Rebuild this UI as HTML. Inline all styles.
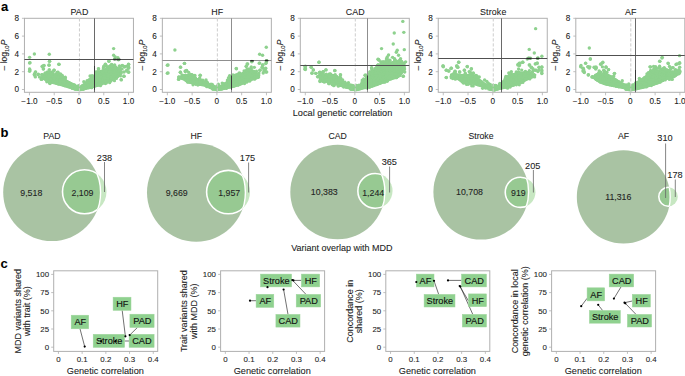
<!DOCTYPE html>
<html><head><meta charset="utf-8"><style>
html,body{margin:0;padding:0;background:#fff;width:685px;height:376px;overflow:hidden}
svg{display:block}
text{font-family:"Liberation Sans", sans-serif;stroke-width:0.08px}
</style></head><body>
<svg width="685" height="376" viewBox="0 0 685 376">
<defs><clipPath id="clipa0"><rect x="24.45" y="18.3" width="109" height="74.00"/></clipPath><clipPath id="clipa1"><rect x="162.35" y="18.3" width="109" height="74.00"/></clipPath><clipPath id="clipa2"><rect x="300.3" y="18.3" width="109" height="74.00"/></clipPath><clipPath id="clipa3"><rect x="438.25" y="18.3" width="109" height="74.00"/></clipPath><clipPath id="clipa4"><rect x="575.8" y="18.3" width="109" height="74.00"/></clipPath></defs>
<rect width="685" height="376" fill="#fff"/>
<text x="1.00" y="10.90" font-size="13" text-anchor="start" fill="#000" stroke="#000" font-weight="bold">a</text>
<text x="0.40" y="136.80" font-size="13" text-anchor="start" fill="#000" stroke="#000" font-weight="bold">b</text>
<text x="0.50" y="267.60" font-size="13" text-anchor="start" fill="#000" stroke="#000" font-weight="bold">c</text>
<text x="79.45" y="14.55" font-size="8.9" text-anchor="middle" fill="#222" stroke="#222" letter-spacing="0.15">PAD</text>
<rect x="24.45" y="18.3" width="109" height="74.00" fill="none" stroke="#b0b0b0" stroke-width="1"/>
<g clip-path="url(#clipa0)">
<g fill="#8ed18e"><circle cx="29.59" cy="57.37" r="1.7"/><circle cx="34.38" cy="54.04" r="1.7"/><circle cx="49.28" cy="54.31" r="1.7"/><circle cx="29.59" cy="62.95" r="1.7"/><circle cx="49.54" cy="61.36" r="1.7"/><circle cx="58.85" cy="64.29" r="1.7"/><circle cx="49.01" cy="64.95" r="1.7"/><circle cx="42.62" cy="66.28" r="1.7"/><circle cx="43.95" cy="65.62" r="1.7"/><circle cx="43.29" cy="68.94" r="1.7"/><circle cx="29.59" cy="68.94" r="1.7"/><circle cx="29.59" cy="71.20" r="1.7"/><circle cx="35.31" cy="72.27" r="1.7"/><circle cx="34.38" cy="74.26" r="1.7"/><circle cx="35.31" cy="76.92" r="1.7"/><circle cx="37.97" cy="74.66" r="1.7"/><circle cx="41.29" cy="79.18" r="1.7"/><circle cx="49.28" cy="69.61" r="1.7"/><circle cx="53.93" cy="70.27" r="1.7"/><circle cx="57.92" cy="72.27" r="1.7"/></g>
<polygon points="43.29,74.26 47.28,72.27 50.61,74.26 55.93,73.60 61.25,75.59 65.24,79.58 70.56,82.24 75.88,84.91 79.87,87.57 84.00,86.90 84.00,90.23 79.87,90.63 74.55,89.30 67.90,87.57 61.25,85.57 54.60,83.97 47.95,82.24 43.95,79.58 41.29,77.59" fill="#8ed18e" stroke="#8ed18e" stroke-width="1.2" stroke-linejoin="round"/>
<g fill="#8ed18e"><circle cx="44.03" cy="74.94" r="1.7"/><circle cx="45.97" cy="74.45" r="1.7"/><circle cx="45.19" cy="72.86" r="1.7"/><circle cx="46.67" cy="73.36" r="1.7"/><circle cx="47.40" cy="71.88" r="1.7"/><circle cx="49.16" cy="74.46" r="1.7"/><circle cx="51.29" cy="72.40" r="1.7"/><circle cx="51.52" cy="75.37" r="1.7"/><circle cx="53.54" cy="75.63" r="1.7"/><circle cx="52.49" cy="73.35" r="1.7"/><circle cx="55.61" cy="75.27" r="1.7"/><circle cx="56.97" cy="72.38" r="1.7"/><circle cx="57.55" cy="75.68" r="1.7"/><circle cx="57.59" cy="74.00" r="1.7"/><circle cx="59.64" cy="76.32" r="1.7"/><circle cx="60.48" cy="73.83" r="1.7"/><circle cx="60.28" cy="76.96" r="1.7"/><circle cx="61.75" cy="78.08" r="1.7"/><circle cx="63.38" cy="79.95" r="1.7"/><circle cx="65.26" cy="77.31" r="1.7"/><circle cx="64.89" cy="81.21" r="1.7"/><circle cx="65.24" cy="78.67" r="1.7"/><circle cx="66.88" cy="82.21" r="1.7"/><circle cx="69.06" cy="82.75" r="1.7"/><circle cx="70.46" cy="83.77" r="1.7"/><circle cx="72.27" cy="85.13" r="1.7"/><circle cx="74.32" cy="85.07" r="1.7"/><circle cx="75.49" cy="86.89" r="1.7"/><circle cx="77.50" cy="87.42" r="1.7"/><circle cx="80.10" cy="88.83" r="1.7"/><circle cx="78.93" cy="87.05" r="1.7"/><circle cx="82.87" cy="88.01" r="1.7"/><circle cx="83.30" cy="86.08" r="1.7"/><circle cx="82.73" cy="87.03" r="1.7"/><circle cx="83.26" cy="88.54" r="1.7"/><circle cx="80.92" cy="88.79" r="1.7"/><circle cx="79.93" cy="89.37" r="1.7"/><circle cx="78.21" cy="88.41" r="1.7"/><circle cx="75.70" cy="88.61" r="1.7"/><circle cx="74.62" cy="88.25" r="1.7"/><circle cx="72.41" cy="87.38" r="1.7"/><circle cx="69.73" cy="86.94" r="1.7"/><circle cx="68.25" cy="86.38" r="1.7"/><circle cx="65.68" cy="85.44" r="1.7"/><circle cx="62.85" cy="84.45" r="1.7"/><circle cx="61.02" cy="84.02" r="1.7"/><circle cx="58.48" cy="84.05" r="1.7"/><circle cx="56.20" cy="82.68" r="1.7"/><circle cx="54.04" cy="82.12" r="1.7"/><circle cx="52.25" cy="82.11" r="1.7"/><circle cx="50.42" cy="81.37" r="1.7"/><circle cx="48.35" cy="81.50" r="1.7"/><circle cx="46.27" cy="79.98" r="1.7"/><circle cx="44.00" cy="78.58" r="1.7"/><circle cx="42.10" cy="78.07" r="1.7"/><circle cx="39.50" cy="77.08" r="1.7"/><circle cx="43.97" cy="75.94" r="1.7"/><circle cx="41.75" cy="74.80" r="1.7"/></g>
<g fill="#8ed18e"><circle cx="113.64" cy="48.59" r="1.7"/><circle cx="113.64" cy="55.24" r="1.7"/><circle cx="115.24" cy="56.97" r="1.7"/><circle cx="117.90" cy="57.63" r="1.7"/><circle cx="118.57" cy="59.23" r="1.7"/><circle cx="114.57" cy="58.96" r="1.7"/><circle cx="108.85" cy="60.96" r="1.7"/><circle cx="105.26" cy="64.29" r="1.7"/><circle cx="103.93" cy="66.28" r="1.7"/><circle cx="98.61" cy="68.94" r="1.7"/><circle cx="128.54" cy="64.29" r="1.7"/><circle cx="128.54" cy="68.28" r="1.7"/><circle cx="128.54" cy="72.27" r="1.7"/><circle cx="124.55" cy="66.95" r="1.7"/><circle cx="122.56" cy="65.62" r="1.7"/><circle cx="123.89" cy="76.26" r="1.7"/><circle cx="121.23" cy="79.58" r="1.7"/><circle cx="117.90" cy="74.26" r="1.7"/><circle cx="127.21" cy="66.28" r="1.7"/><circle cx="126.55" cy="70.94" r="1.7"/></g>
<polygon points="74.00,85.30 79.32,86.90 84.64,82.91 88.63,78.92 93.95,74.93 97.95,71.60 104.60,68.94 109.92,64.95 113.91,65.62 119.23,68.28 121.89,71.60 120.56,74.93 116.57,78.25 111.25,80.91 104.60,83.57 97.95,86.24 91.29,88.23 84.64,89.56 79.32,90.63 74.00,89.56" fill="#8ed18e" stroke="#8ed18e" stroke-width="1.2" stroke-linejoin="round"/>
<g fill="#8ed18e"><circle cx="74.06" cy="86.27" r="1.7"/><circle cx="76.28" cy="87.33" r="1.7"/><circle cx="77.37" cy="87.24" r="1.7"/><circle cx="78.51" cy="85.62" r="1.7"/><circle cx="79.94" cy="87.43" r="1.7"/><circle cx="82.13" cy="85.97" r="1.7"/><circle cx="83.71" cy="85.31" r="1.7"/><circle cx="86.31" cy="83.42" r="1.7"/><circle cx="83.85" cy="81.63" r="1.7"/><circle cx="87.45" cy="82.03" r="1.7"/><circle cx="88.24" cy="80.75" r="1.7"/><circle cx="90.53" cy="79.63" r="1.7"/><circle cx="92.09" cy="78.32" r="1.7"/><circle cx="90.07" cy="76.02" r="1.7"/><circle cx="92.69" cy="76.88" r="1.7"/><circle cx="92.12" cy="75.60" r="1.7"/><circle cx="95.72" cy="75.11" r="1.7"/><circle cx="98.10" cy="73.85" r="1.7"/><circle cx="95.93" cy="71.89" r="1.7"/><circle cx="98.54" cy="72.44" r="1.7"/><circle cx="101.79" cy="71.89" r="1.7"/><circle cx="103.72" cy="71.07" r="1.7"/><circle cx="103.35" cy="68.09" r="1.7"/><circle cx="106.25" cy="69.70" r="1.7"/><circle cx="107.52" cy="68.81" r="1.7"/><circle cx="106.38" cy="66.03" r="1.7"/><circle cx="109.23" cy="66.99" r="1.7"/><circle cx="110.48" cy="66.02" r="1.7"/><circle cx="111.55" cy="64.49" r="1.7"/><circle cx="112.56" cy="66.34" r="1.7"/><circle cx="114.11" cy="67.39" r="1.7"/><circle cx="114.64" cy="64.85" r="1.7"/><circle cx="114.87" cy="68.16" r="1.7"/><circle cx="117.12" cy="69.23" r="1.7"/><circle cx="119.45" cy="65.87" r="1.7"/><circle cx="118.55" cy="69.11" r="1.7"/><circle cx="120.14" cy="67.98" r="1.7"/><circle cx="119.77" cy="70.93" r="1.7"/><circle cx="122.03" cy="68.89" r="1.7"/><circle cx="120.27" cy="71.84" r="1.7"/><circle cx="118.87" cy="74.73" r="1.7"/><circle cx="116.80" cy="76.33" r="1.7"/><circle cx="115.49" cy="77.28" r="1.7"/><circle cx="114.22" cy="78.02" r="1.7"/><circle cx="112.51" cy="79.41" r="1.7"/><circle cx="110.00" cy="80.37" r="1.7"/><circle cx="107.92" cy="80.55" r="1.7"/><circle cx="105.78" cy="81.88" r="1.7"/><circle cx="103.51" cy="82.52" r="1.7"/><circle cx="101.18" cy="83.98" r="1.7"/><circle cx="99.15" cy="84.62" r="1.7"/><circle cx="97.17" cy="84.77" r="1.7"/><circle cx="94.77" cy="85.74" r="1.7"/><circle cx="92.16" cy="86.11" r="1.7"/><circle cx="90.52" cy="86.91" r="1.7"/><circle cx="88.25" cy="87.47" r="1.7"/><circle cx="85.84" cy="88.02" r="1.7"/><circle cx="83.91" cy="88.38" r="1.7"/><circle cx="81.73" cy="88.57" r="1.7"/><circle cx="79.96" cy="88.65" r="1.7"/><circle cx="79.36" cy="89.22" r="1.7"/><circle cx="77.04" cy="88.44" r="1.7"/><circle cx="75.83" cy="89.00" r="1.7"/><circle cx="74.85" cy="89.09" r="1.7"/><circle cx="74.86" cy="87.18" r="1.7"/></g>
<g fill="#8ed18e"><circle cx="98.43" cy="68.71" r="1.7"/><circle cx="104.02" cy="66.38" r="1.7"/><circle cx="105.60" cy="64.52" r="1.7"/><circle cx="108.95" cy="61.26" r="1.7"/><circle cx="118.45" cy="59.86" r="1.7"/><circle cx="122.18" cy="65.45" r="1.7"/><circle cx="124.97" cy="66.38" r="1.7"/><circle cx="128.69" cy="64.52" r="1.7"/><circle cx="128.69" cy="67.31" r="1.7"/><circle cx="128.69" cy="71.97" r="1.7"/><circle cx="126.83" cy="70.10" r="1.7"/><circle cx="124.04" cy="71.97" r="1.7"/><circle cx="124.04" cy="76.16" r="1.7"/><circle cx="121.24" cy="79.88" r="1.7"/><circle cx="119.85" cy="68.71" r="1.7"/><circle cx="115.66" cy="66.85" r="1.7"/><circle cx="111.93" cy="64.98" r="1.7"/></g>
<g fill="#8ed18e"><circle cx="109.87" cy="66.59" r="1.6"/><circle cx="111.53" cy="67.03" r="1.6"/><circle cx="114.58" cy="66.91" r="1.6"/><circle cx="106.83" cy="69.59" r="1.6"/><circle cx="110.07" cy="69.33" r="1.6"/><circle cx="111.93" cy="69.80" r="1.6"/><circle cx="113.66" cy="68.87" r="1.6"/><circle cx="115.51" cy="69.97" r="1.6"/><circle cx="117.96" cy="68.92" r="1.6"/><circle cx="97.50" cy="71.65" r="1.6"/><circle cx="99.91" cy="71.84" r="1.6"/><circle cx="101.92" cy="71.89" r="1.6"/><circle cx="104.32" cy="71.23" r="1.6"/><circle cx="106.27" cy="71.12" r="1.6"/><circle cx="108.87" cy="72.02" r="1.6"/><circle cx="112.00" cy="72.14" r="1.6"/><circle cx="114.51" cy="71.71" r="1.6"/><circle cx="116.98" cy="71.32" r="1.6"/><circle cx="118.73" cy="71.15" r="1.6"/><circle cx="121.43" cy="72.09" r="1.6"/><circle cx="95.81" cy="73.75" r="1.6"/><circle cx="97.21" cy="73.96" r="1.6"/><circle cx="100.64" cy="74.28" r="1.6"/><circle cx="102.60" cy="74.47" r="1.6"/><circle cx="103.91" cy="74.66" r="1.6"/><circle cx="107.00" cy="74.24" r="1.6"/><circle cx="108.61" cy="74.56" r="1.6"/><circle cx="110.92" cy="73.81" r="1.6"/><circle cx="116.19" cy="74.00" r="1.6"/><circle cx="118.79" cy="74.61" r="1.6"/><circle cx="121.03" cy="73.51" r="1.6"/><circle cx="93.51" cy="76.76" r="1.6"/><circle cx="95.53" cy="76.43" r="1.6"/><circle cx="97.19" cy="77.11" r="1.6"/><circle cx="100.87" cy="77.18" r="1.6"/><circle cx="104.62" cy="76.11" r="1.6"/><circle cx="107.71" cy="76.02" r="1.6"/><circle cx="111.01" cy="77.00" r="1.6"/><circle cx="114.52" cy="76.81" r="1.6"/><circle cx="116.84" cy="76.46" r="1.6"/><circle cx="117.71" cy="76.47" r="1.6"/><circle cx="120.48" cy="75.91" r="1.6"/><circle cx="92.86" cy="78.58" r="1.6"/><circle cx="96.30" cy="78.93" r="1.6"/><circle cx="97.68" cy="78.42" r="1.6"/><circle cx="99.46" cy="79.32" r="1.6"/><circle cx="103.10" cy="78.38" r="1.6"/><circle cx="104.72" cy="78.29" r="1.6"/><circle cx="107.73" cy="79.40" r="1.6"/><circle cx="111.68" cy="79.13" r="1.6"/><circle cx="114.27" cy="78.70" r="1.6"/><circle cx="116.43" cy="78.44" r="1.6"/><circle cx="87.06" cy="80.70" r="1.6"/><circle cx="88.28" cy="81.17" r="1.6"/><circle cx="90.37" cy="80.54" r="1.6"/><circle cx="93.85" cy="81.08" r="1.6"/><circle cx="96.15" cy="81.88" r="1.6"/><circle cx="97.22" cy="80.59" r="1.6"/><circle cx="99.85" cy="80.43" r="1.6"/><circle cx="105.10" cy="80.94" r="1.6"/><circle cx="107.04" cy="80.89" r="1.6"/><circle cx="111.00" cy="81.09" r="1.6"/><circle cx="114.48" cy="80.63" r="1.6"/><circle cx="86.64" cy="84.02" r="1.6"/><circle cx="88.74" cy="82.58" r="1.6"/><circle cx="91.58" cy="83.90" r="1.6"/><circle cx="93.96" cy="82.98" r="1.6"/><circle cx="94.95" cy="83.42" r="1.6"/><circle cx="98.51" cy="83.74" r="1.6"/><circle cx="100.52" cy="83.31" r="1.6"/><circle cx="101.66" cy="83.83" r="1.6"/><circle cx="105.37" cy="83.62" r="1.6"/><circle cx="106.40" cy="82.99" r="1.6"/><circle cx="109.62" cy="82.76" r="1.6"/><circle cx="84.61" cy="85.64" r="1.6"/><circle cx="85.90" cy="86.42" r="1.6"/><circle cx="88.29" cy="84.92" r="1.6"/><circle cx="91.18" cy="85.56" r="1.6"/><circle cx="93.47" cy="86.36" r="1.6"/><circle cx="94.75" cy="85.42" r="1.6"/><circle cx="98.09" cy="85.20" r="1.6"/><circle cx="100.48" cy="85.69" r="1.6"/><circle cx="91.59" cy="87.71" r="1.6"/></g>
<g fill="#8ed18e"><circle cx="49.55" cy="61.26" r="1.7"/><circle cx="59.05" cy="64.33" r="1.7"/><circle cx="49.09" cy="65.26" r="1.7"/><circle cx="42.10" cy="66.38" r="1.7"/><circle cx="43.97" cy="65.45" r="1.7"/><circle cx="43.50" cy="68.71" r="1.7"/><circle cx="35.59" cy="71.97" r="1.7"/><circle cx="34.66" cy="75.23" r="1.7"/><circle cx="38.38" cy="74.29" r="1.7"/><circle cx="42.10" cy="74.76" r="1.7"/><circle cx="41.64" cy="79.42" r="1.7"/><circle cx="50.02" cy="83.61" r="1.7"/><circle cx="30.00" cy="62.66" r="1.7"/><circle cx="30.00" cy="70.10" r="1.7"/><circle cx="54.21" cy="70.10" r="1.7"/><circle cx="57.93" cy="72.43" r="1.7"/></g>
<g fill="#8ed18e"><circle cx="48.72" cy="72.18" r="1.6"/><circle cx="50.63" cy="71.92" r="1.6"/><circle cx="53.20" cy="71.71" r="1.6"/><circle cx="46.15" cy="75.32" r="1.6"/><circle cx="51.32" cy="74.27" r="1.6"/><circle cx="53.85" cy="75.49" r="1.6"/><circle cx="55.86" cy="75.21" r="1.6"/><circle cx="62.31" cy="75.46" r="1.6"/><circle cx="44.65" cy="76.53" r="1.6"/><circle cx="46.43" cy="77.29" r="1.6"/><circle cx="48.70" cy="76.53" r="1.6"/><circle cx="51.38" cy="76.31" r="1.6"/><circle cx="53.44" cy="77.08" r="1.6"/><circle cx="55.25" cy="76.47" r="1.6"/><circle cx="58.06" cy="76.66" r="1.6"/><circle cx="61.23" cy="76.70" r="1.6"/><circle cx="62.58" cy="76.87" r="1.6"/><circle cx="45.06" cy="78.65" r="1.6"/><circle cx="46.50" cy="79.31" r="1.6"/><circle cx="50.68" cy="79.29" r="1.6"/><circle cx="54.35" cy="78.82" r="1.6"/><circle cx="56.61" cy="80.07" r="1.6"/><circle cx="57.49" cy="79.99" r="1.6"/><circle cx="61.15" cy="79.50" r="1.6"/><circle cx="62.26" cy="79.76" r="1.6"/><circle cx="64.95" cy="79.86" r="1.6"/><circle cx="46.78" cy="81.81" r="1.6"/><circle cx="48.88" cy="81.74" r="1.6"/><circle cx="51.56" cy="81.52" r="1.6"/><circle cx="52.84" cy="81.79" r="1.6"/><circle cx="55.48" cy="82.03" r="1.6"/><circle cx="58.14" cy="81.09" r="1.6"/><circle cx="59.88" cy="81.01" r="1.6"/><circle cx="62.15" cy="81.51" r="1.6"/><circle cx="64.37" cy="81.82" r="1.6"/><circle cx="67.78" cy="82.05" r="1.6"/><circle cx="49.69" cy="83.21" r="1.6"/><circle cx="57.74" cy="83.52" r="1.6"/><circle cx="60.21" cy="83.16" r="1.6"/><circle cx="62.26" cy="84.60" r="1.6"/><circle cx="65.74" cy="83.37" r="1.6"/><circle cx="66.79" cy="83.95" r="1.6"/><circle cx="69.48" cy="84.50" r="1.6"/><circle cx="72.13" cy="84.52" r="1.6"/><circle cx="64.52" cy="85.77" r="1.6"/><circle cx="66.64" cy="85.41" r="1.6"/><circle cx="69.07" cy="85.98" r="1.6"/><circle cx="72.14" cy="86.35" r="1.6"/><circle cx="74.50" cy="86.16" r="1.6"/><circle cx="72.18" cy="88.52" r="1.6"/><circle cx="74.81" cy="87.98" r="1.6"/><circle cx="79.36" cy="88.85" r="1.6"/></g>
</g>
<line x1="79.45" y1="18.3" x2="79.45" y2="92.3" stroke="#cdcdcd" stroke-width="1" stroke-dasharray="3.2,1.8"/>
<line x1="94.50" y1="18.3" x2="94.50" y2="92.3" stroke="#6a6a6a" stroke-width="1"/>
<line x1="94.50" y1="66" x2="94.50" y2="89.8" stroke="#3a3a3a" stroke-width="1"/>
<line x1="24.45" y1="59.50" x2="133.45" y2="59.50" stroke="#505050" stroke-width="1"/>
<line x1="113.8" y1="59.5" x2="120.2" y2="59.5" stroke="#2a2a2a" stroke-width="1.5" stroke-linecap="round"/>
<line x1="21.95" y1="89.50" x2="24.45" y2="89.50" stroke="#b0b0b0" stroke-width="0.8"/>
<text x="18.95" y="92.40" font-size="8.2" text-anchor="end" fill="#222" stroke="#222" >0</text>
<line x1="21.95" y1="71.70" x2="24.45" y2="71.70" stroke="#b0b0b0" stroke-width="0.8"/>
<text x="18.95" y="74.60" font-size="8.2" text-anchor="end" fill="#222" stroke="#222" >2</text>
<line x1="21.95" y1="53.90" x2="24.45" y2="53.90" stroke="#b0b0b0" stroke-width="0.8"/>
<text x="18.95" y="56.80" font-size="8.2" text-anchor="end" fill="#222" stroke="#222" >4</text>
<line x1="21.95" y1="36.10" x2="24.45" y2="36.10" stroke="#b0b0b0" stroke-width="0.8"/>
<text x="18.95" y="39.00" font-size="8.2" text-anchor="end" fill="#222" stroke="#222" >6</text>
<line x1="21.95" y1="18.30" x2="24.45" y2="18.30" stroke="#b0b0b0" stroke-width="0.8"/>
<text x="18.95" y="21.20" font-size="8.2" text-anchor="end" fill="#222" stroke="#222" >8</text>
<line x1="29.45" y1="92.3" x2="29.45" y2="95.30" stroke="#b0b0b0" stroke-width="0.8"/>
<text x="29.45" y="104.00" font-size="8.2" text-anchor="middle" fill="#222" stroke="#222" >−1.0</text>
<line x1="54.23" y1="92.3" x2="54.23" y2="95.30" stroke="#b0b0b0" stroke-width="0.8"/>
<text x="54.23" y="104.00" font-size="8.2" text-anchor="middle" fill="#222" stroke="#222" >−0.5</text>
<line x1="79.00" y1="92.3" x2="79.00" y2="95.30" stroke="#b0b0b0" stroke-width="0.8"/>
<text x="79.00" y="104.00" font-size="8.2" text-anchor="middle" fill="#222" stroke="#222" >0</text>
<line x1="103.78" y1="92.3" x2="103.78" y2="95.30" stroke="#b0b0b0" stroke-width="0.8"/>
<text x="103.78" y="104.00" font-size="8.2" text-anchor="middle" fill="#222" stroke="#222" >0.5</text>
<line x1="128.55" y1="92.3" x2="128.55" y2="95.30" stroke="#b0b0b0" stroke-width="0.8"/>
<text x="128.55" y="104.00" font-size="8.2" text-anchor="middle" fill="#222" stroke="#222" >1.0</text>
<text transform="translate(6.95,55) rotate(-90)" font-size="8.5" text-anchor="middle" fill="#222" stroke="#222">– log<tspan font-size="6" dy="2">10</tspan><tspan dy="-2" font-style="italic">P</tspan></text>
<text x="217.35" y="14.55" font-size="8.9" text-anchor="middle" fill="#222" stroke="#222" letter-spacing="0.15">HF</text>
<rect x="162.35" y="18.3" width="109" height="74.00" fill="none" stroke="#b0b0b0" stroke-width="1"/>
<g clip-path="url(#clipa1)">
<g fill="#8ed18e"><circle cx="174.90" cy="50.05" r="1.7"/><circle cx="167.32" cy="65.22" r="1.7"/><circle cx="167.32" cy="73.20" r="1.7"/><circle cx="184.35" cy="63.35" r="1.7"/><circle cx="180.62" cy="67.21" r="1.7"/><circle cx="180.36" cy="72.27" r="1.7"/><circle cx="185.28" cy="71.60" r="1.7"/><circle cx="186.61" cy="70.67" r="1.7"/><circle cx="200.31" cy="75.33" r="1.7"/><circle cx="178.63" cy="79.18" r="1.7"/><circle cx="179.03" cy="76.92" r="1.7"/></g>
<polygon points="179.96,76.26 183.95,74.93 188.61,74.26 191.93,73.60 194.59,75.59 196.59,78.25 201.91,79.58 206.57,82.24 211.22,85.57 216.54,87.57 222.00,85.84 222.00,89.83 216.54,90.63 211.22,88.90 204.57,86.24 197.92,84.91 192.60,83.97 187.94,82.91 183.95,80.25 180.62,78.65" fill="#8ed18e" stroke="#8ed18e" stroke-width="1.2" stroke-linejoin="round"/>
<g fill="#8ed18e"><circle cx="181.31" cy="77.49" r="1.7"/><circle cx="183.10" cy="76.55" r="1.7"/><circle cx="182.00" cy="74.87" r="1.7"/><circle cx="184.16" cy="76.05" r="1.7"/><circle cx="187.33" cy="76.17" r="1.7"/><circle cx="189.32" cy="75.53" r="1.7"/><circle cx="188.74" cy="72.41" r="1.7"/><circle cx="191.40" cy="75.05" r="1.7"/><circle cx="193.41" cy="76.93" r="1.7"/><circle cx="194.92" cy="75.40" r="1.7"/><circle cx="196.81" cy="80.18" r="1.7"/><circle cx="198.23" cy="80.46" r="1.7"/><circle cx="199.65" cy="78.04" r="1.7"/><circle cx="200.32" cy="80.77" r="1.7"/><circle cx="202.41" cy="81.36" r="1.7"/><circle cx="204.20" cy="82.87" r="1.7"/><circle cx="206.02" cy="79.92" r="1.7"/><circle cx="206.22" cy="83.24" r="1.7"/><circle cx="207.15" cy="84.84" r="1.7"/><circle cx="207.60" cy="83.11" r="1.7"/><circle cx="209.72" cy="85.92" r="1.7"/><circle cx="209.68" cy="84.69" r="1.7"/><circle cx="211.32" cy="87.18" r="1.7"/><circle cx="213.35" cy="87.27" r="1.7"/><circle cx="214.50" cy="88.59" r="1.7"/><circle cx="217.61" cy="88.12" r="1.7"/><circle cx="219.74" cy="88.45" r="1.7"/><circle cx="218.21" cy="86.07" r="1.7"/><circle cx="220.73" cy="88.03" r="1.7"/><circle cx="220.31" cy="86.47" r="1.7"/><circle cx="220.91" cy="88.46" r="1.7"/><circle cx="221.78" cy="88.97" r="1.7"/><circle cx="219.35" cy="89.20" r="1.7"/><circle cx="217.89" cy="89.17" r="1.7"/><circle cx="216.85" cy="89.61" r="1.7"/><circle cx="215.00" cy="88.48" r="1.7"/><circle cx="213.02" cy="88.29" r="1.7"/><circle cx="210.65" cy="87.23" r="1.7"/><circle cx="208.60" cy="86.28" r="1.7"/><circle cx="207.21" cy="85.97" r="1.7"/><circle cx="204.41" cy="84.54" r="1.7"/><circle cx="202.27" cy="84.19" r="1.7"/><circle cx="199.74" cy="84.24" r="1.7"/><circle cx="197.30" cy="83.91" r="1.7"/><circle cx="195.58" cy="83.52" r="1.7"/><circle cx="194.54" cy="83.30" r="1.7"/><circle cx="192.12" cy="81.97" r="1.7"/><circle cx="190.56" cy="82.16" r="1.7"/><circle cx="188.37" cy="81.21" r="1.7"/><circle cx="186.49" cy="80.36" r="1.7"/><circle cx="184.39" cy="78.59" r="1.7"/><circle cx="182.86" cy="77.71" r="1.7"/><circle cx="181.50" cy="78.04" r="1.7"/></g>
<g fill="#8ed18e"><circle cx="266.28" cy="47.26" r="1.7"/><circle cx="259.63" cy="54.31" r="1.7"/><circle cx="262.55" cy="55.24" r="1.7"/><circle cx="251.91" cy="61.36" r="1.7"/><circle cx="266.28" cy="60.96" r="1.7"/><circle cx="266.28" cy="62.69" r="1.7"/><circle cx="259.23" cy="63.22" r="1.7"/><circle cx="262.55" cy="64.95" r="1.7"/><circle cx="247.65" cy="64.02" r="1.7"/><circle cx="246.32" cy="66.28" r="1.7"/><circle cx="251.24" cy="66.95" r="1.7"/><circle cx="254.30" cy="67.34" r="1.7"/><circle cx="236.21" cy="68.54" r="1.7"/><circle cx="259.89" cy="70.27" r="1.7"/><circle cx="263.22" cy="68.28" r="1.7"/><circle cx="265.21" cy="69.61" r="1.7"/><circle cx="265.88" cy="72.00" r="1.7"/><circle cx="263.22" cy="72.93" r="1.7"/><circle cx="258.56" cy="76.92" r="1.7"/></g>
<polygon points="212.00,85.57 217.32,87.57 222.64,84.24 227.96,81.58 229.29,76.92 233.95,74.93 237.94,73.33 242.60,74.26 246.59,70.94 249.91,68.94 253.24,70.27 257.23,72.93 259.89,74.93 258.56,78.25 251.91,80.25 245.26,82.91 238.61,85.57 231.95,87.57 225.30,88.90 217.32,90.63 212.00,89.56" fill="#8ed18e" stroke="#8ed18e" stroke-width="1.2" stroke-linejoin="round"/>
<g fill="#8ed18e"><circle cx="212.16" cy="87.04" r="1.7"/><circle cx="212.31" cy="84.39" r="1.7"/><circle cx="213.93" cy="87.94" r="1.7"/><circle cx="215.69" cy="88.20" r="1.7"/><circle cx="217.25" cy="86.13" r="1.7"/><circle cx="218.33" cy="89.00" r="1.7"/><circle cx="216.56" cy="86.93" r="1.7"/><circle cx="220.60" cy="87.08" r="1.7"/><circle cx="218.31" cy="84.28" r="1.7"/><circle cx="222.00" cy="86.25" r="1.7"/><circle cx="223.97" cy="85.24" r="1.7"/><circle cx="222.21" cy="83.08" r="1.7"/><circle cx="225.84" cy="84.32" r="1.7"/><circle cx="226.90" cy="83.52" r="1.7"/><circle cx="229.03" cy="81.16" r="1.7"/><circle cx="229.92" cy="78.51" r="1.7"/><circle cx="228.49" cy="77.98" r="1.7"/><circle cx="230.65" cy="77.37" r="1.7"/><circle cx="229.63" cy="75.79" r="1.7"/><circle cx="232.61" cy="76.54" r="1.7"/><circle cx="232.92" cy="75.06" r="1.7"/><circle cx="235.01" cy="75.46" r="1.7"/><circle cx="236.49" cy="75.20" r="1.7"/><circle cx="238.56" cy="75.07" r="1.7"/><circle cx="239.27" cy="72.86" r="1.7"/><circle cx="240.20" cy="74.80" r="1.7"/><circle cx="240.26" cy="73.46" r="1.7"/><circle cx="244.37" cy="74.79" r="1.7"/><circle cx="246.05" cy="73.06" r="1.7"/><circle cx="244.11" cy="70.96" r="1.7"/><circle cx="248.12" cy="72.09" r="1.7"/><circle cx="246.99" cy="69.37" r="1.7"/><circle cx="249.13" cy="70.61" r="1.7"/><circle cx="250.77" cy="71.04" r="1.7"/><circle cx="253.25" cy="72.11" r="1.7"/><circle cx="255.07" cy="72.84" r="1.7"/><circle cx="256.62" cy="74.02" r="1.7"/><circle cx="258.05" cy="75.57" r="1.7"/><circle cx="257.93" cy="77.15" r="1.7"/><circle cx="255.42" cy="77.67" r="1.7"/><circle cx="253.24" cy="78.27" r="1.7"/><circle cx="250.52" cy="79.75" r="1.7"/><circle cx="248.36" cy="79.91" r="1.7"/><circle cx="246.56" cy="80.98" r="1.7"/><circle cx="243.87" cy="82.58" r="1.7"/><circle cx="242.08" cy="83.15" r="1.7"/><circle cx="239.28" cy="83.35" r="1.7"/><circle cx="237.78" cy="84.89" r="1.7"/><circle cx="235.36" cy="85.11" r="1.7"/><circle cx="232.99" cy="85.86" r="1.7"/><circle cx="230.92" cy="86.05" r="1.7"/><circle cx="228.92" cy="86.92" r="1.7"/><circle cx="226.27" cy="87.68" r="1.7"/><circle cx="224.36" cy="87.86" r="1.7"/><circle cx="222.35" cy="88.60" r="1.7"/><circle cx="220.08" cy="88.83" r="1.7"/><circle cx="219.03" cy="89.15" r="1.7"/><circle cx="217.12" cy="89.78" r="1.7"/><circle cx="215.42" cy="88.98" r="1.7"/><circle cx="213.38" cy="88.65" r="1.7"/><circle cx="213.02" cy="89.30" r="1.7"/><circle cx="213.81" cy="86.83" r="1.7"/></g>
<g fill="#8ed18e"><circle cx="236.43" cy="68.71" r="1.7"/><circle cx="247.14" cy="64.05" r="1.7"/><circle cx="246.21" cy="66.38" r="1.7"/><circle cx="251.80" cy="61.72" r="1.7"/><circle cx="259.71" cy="63.12" r="1.7"/><circle cx="262.97" cy="64.98" r="1.7"/><circle cx="265.76" cy="63.59" r="1.7"/><circle cx="266.69" cy="60.79" r="1.7"/><circle cx="265.76" cy="68.24" r="1.7"/><circle cx="266.69" cy="71.97" r="1.7"/><circle cx="263.90" cy="71.04" r="1.7"/><circle cx="262.04" cy="67.31" r="1.7"/><circle cx="260.18" cy="70.10" r="1.7"/></g>
<g fill="#8ed18e"><circle cx="249.04" cy="68.86" r="1.6"/><circle cx="251.37" cy="68.84" r="1.6"/><circle cx="245.26" cy="71.06" r="1.6"/><circle cx="247.17" cy="71.25" r="1.6"/><circle cx="249.82" cy="70.73" r="1.6"/><circle cx="253.93" cy="71.29" r="1.6"/><circle cx="256.48" cy="71.15" r="1.6"/><circle cx="242.95" cy="73.28" r="1.6"/><circle cx="244.71" cy="72.49" r="1.6"/><circle cx="247.52" cy="73.27" r="1.6"/><circle cx="249.96" cy="73.43" r="1.6"/><circle cx="251.18" cy="72.49" r="1.6"/><circle cx="253.70" cy="73.49" r="1.6"/><circle cx="258.98" cy="73.00" r="1.6"/><circle cx="233.94" cy="75.78" r="1.6"/><circle cx="235.59" cy="75.63" r="1.6"/><circle cx="238.20" cy="74.73" r="1.6"/><circle cx="240.27" cy="74.82" r="1.6"/><circle cx="242.93" cy="75.81" r="1.6"/><circle cx="245.11" cy="74.38" r="1.6"/><circle cx="249.51" cy="74.34" r="1.6"/><circle cx="254.16" cy="74.97" r="1.6"/><circle cx="256.73" cy="74.65" r="1.6"/><circle cx="258.02" cy="74.32" r="1.6"/><circle cx="229.25" cy="77.00" r="1.6"/><circle cx="230.70" cy="76.69" r="1.6"/><circle cx="233.84" cy="77.98" r="1.6"/><circle cx="235.13" cy="77.62" r="1.6"/><circle cx="238.04" cy="78.11" r="1.6"/><circle cx="241.14" cy="77.76" r="1.6"/><circle cx="241.92" cy="77.66" r="1.6"/><circle cx="244.33" cy="77.11" r="1.6"/><circle cx="246.77" cy="77.99" r="1.6"/><circle cx="248.90" cy="77.20" r="1.6"/><circle cx="251.80" cy="77.70" r="1.6"/><circle cx="254.68" cy="77.20" r="1.6"/><circle cx="256.71" cy="77.28" r="1.6"/><circle cx="227.36" cy="80.04" r="1.6"/><circle cx="231.73" cy="79.88" r="1.6"/><circle cx="233.39" cy="80.34" r="1.6"/><circle cx="238.59" cy="79.37" r="1.6"/><circle cx="240.02" cy="79.59" r="1.6"/><circle cx="243.21" cy="80.33" r="1.6"/><circle cx="245.53" cy="80.21" r="1.6"/><circle cx="247.42" cy="79.35" r="1.6"/><circle cx="251.65" cy="79.05" r="1.6"/><circle cx="254.68" cy="79.24" r="1.6"/><circle cx="227.07" cy="81.95" r="1.6"/><circle cx="229.39" cy="82.45" r="1.6"/><circle cx="233.53" cy="81.98" r="1.6"/><circle cx="235.30" cy="81.52" r="1.6"/><circle cx="238.42" cy="81.79" r="1.6"/><circle cx="240.24" cy="82.04" r="1.6"/><circle cx="241.97" cy="82.81" r="1.6"/><circle cx="244.37" cy="82.23" r="1.6"/><circle cx="246.75" cy="82.17" r="1.6"/><circle cx="249.63" cy="81.25" r="1.6"/><circle cx="223.91" cy="83.57" r="1.6"/><circle cx="226.09" cy="83.65" r="1.6"/><circle cx="228.99" cy="84.91" r="1.6"/><circle cx="231.92" cy="84.97" r="1.6"/><circle cx="233.66" cy="84.15" r="1.6"/><circle cx="236.53" cy="83.93" r="1.6"/><circle cx="238.33" cy="85.04" r="1.6"/><circle cx="240.23" cy="84.23" r="1.6"/><circle cx="244.55" cy="83.58" r="1.6"/><circle cx="222.70" cy="86.90" r="1.6"/><circle cx="224.45" cy="87.03" r="1.6"/><circle cx="226.32" cy="86.23" r="1.6"/><circle cx="228.87" cy="86.08" r="1.6"/><circle cx="230.63" cy="86.90" r="1.6"/><circle cx="233.85" cy="86.13" r="1.6"/><circle cx="223.75" cy="88.55" r="1.6"/><circle cx="226.34" cy="88.38" r="1.6"/></g>
<g fill="#8ed18e"><circle cx="184.57" cy="63.40" r="1.7"/><circle cx="180.38" cy="67.12" r="1.7"/><circle cx="180.38" cy="72.25" r="1.7"/><circle cx="185.23" cy="71.04" r="1.7"/><circle cx="186.62" cy="70.57" r="1.7"/><circle cx="200.12" cy="75.23" r="1.7"/><circle cx="178.71" cy="79.42" r="1.7"/><circle cx="178.71" cy="77.09" r="1.7"/><circle cx="168.00" cy="64.98" r="1.7"/><circle cx="168.00" cy="72.90" r="1.7"/><circle cx="207.11" cy="82.21" r="1.7"/></g>
<g fill="#8ed18e"><circle cx="183.27" cy="75.73" r="1.6"/><circle cx="185.53" cy="74.99" r="1.6"/><circle cx="187.58" cy="75.23" r="1.6"/><circle cx="190.70" cy="74.59" r="1.6"/><circle cx="193.48" cy="75.78" r="1.6"/><circle cx="181.63" cy="77.62" r="1.6"/><circle cx="184.10" cy="76.86" r="1.6"/><circle cx="186.42" cy="76.77" r="1.6"/><circle cx="188.36" cy="77.50" r="1.6"/><circle cx="190.07" cy="77.35" r="1.6"/><circle cx="193.12" cy="78.08" r="1.6"/><circle cx="195.39" cy="77.89" r="1.6"/><circle cx="186.29" cy="79.58" r="1.6"/><circle cx="187.68" cy="79.69" r="1.6"/><circle cx="193.42" cy="80.50" r="1.6"/><circle cx="196.83" cy="80.02" r="1.6"/><circle cx="200.16" cy="79.44" r="1.6"/><circle cx="202.85" cy="79.99" r="1.6"/><circle cx="187.71" cy="82.17" r="1.6"/><circle cx="190.85" cy="82.21" r="1.6"/><circle cx="192.50" cy="82.43" r="1.6"/><circle cx="195.35" cy="82.28" r="1.6"/><circle cx="197.27" cy="81.69" r="1.6"/><circle cx="199.89" cy="81.91" r="1.6"/><circle cx="201.39" cy="81.86" r="1.6"/><circle cx="204.05" cy="82.19" r="1.6"/><circle cx="206.43" cy="82.88" r="1.6"/><circle cx="193.00" cy="84.78" r="1.6"/><circle cx="195.69" cy="84.36" r="1.6"/><circle cx="197.91" cy="85.06" r="1.6"/><circle cx="200.47" cy="83.60" r="1.6"/><circle cx="204.59" cy="84.27" r="1.6"/><circle cx="207.37" cy="84.57" r="1.6"/><circle cx="209.00" cy="84.33" r="1.6"/><circle cx="211.04" cy="84.22" r="1.6"/><circle cx="206.80" cy="86.73" r="1.6"/><circle cx="208.90" cy="86.47" r="1.6"/><circle cx="211.13" cy="87.41" r="1.6"/><circle cx="213.71" cy="86.06" r="1.6"/><circle cx="215.81" cy="86.80" r="1.6"/><circle cx="213.89" cy="88.27" r="1.6"/><circle cx="216.43" cy="88.69" r="1.6"/></g>
</g>
<line x1="217.35" y1="18.3" x2="217.35" y2="92.3" stroke="#cdcdcd" stroke-width="1" stroke-dasharray="3.2,1.8"/>
<line x1="231.50" y1="18.3" x2="231.50" y2="92.3" stroke="#8f8f8f" stroke-width="1"/>
<line x1="231.50" y1="75.5" x2="231.50" y2="89.8" stroke="#3a3a3a" stroke-width="1"/>
<line x1="162.35" y1="60.50" x2="271.35" y2="60.50" stroke="#8f8f8f" stroke-width="1"/>
<line x1="250.8" y1="60.8" x2="253.2" y2="60.8" stroke="#2a2a2a" stroke-width="1.5" stroke-linecap="round"/>
<line x1="265.5" y1="60.6" x2="267.8" y2="60.6" stroke="#2a2a2a" stroke-width="1.5" stroke-linecap="round"/>
<line x1="159.85" y1="89.50" x2="162.35" y2="89.50" stroke="#b0b0b0" stroke-width="0.8"/>
<text x="156.85" y="92.40" font-size="8.2" text-anchor="end" fill="#222" stroke="#222" >0</text>
<line x1="159.85" y1="71.70" x2="162.35" y2="71.70" stroke="#b0b0b0" stroke-width="0.8"/>
<text x="156.85" y="74.60" font-size="8.2" text-anchor="end" fill="#222" stroke="#222" >2</text>
<line x1="159.85" y1="53.90" x2="162.35" y2="53.90" stroke="#b0b0b0" stroke-width="0.8"/>
<text x="156.85" y="56.80" font-size="8.2" text-anchor="end" fill="#222" stroke="#222" >4</text>
<line x1="159.85" y1="36.10" x2="162.35" y2="36.10" stroke="#b0b0b0" stroke-width="0.8"/>
<text x="156.85" y="39.00" font-size="8.2" text-anchor="end" fill="#222" stroke="#222" >6</text>
<line x1="159.85" y1="18.30" x2="162.35" y2="18.30" stroke="#b0b0b0" stroke-width="0.8"/>
<text x="156.85" y="21.20" font-size="8.2" text-anchor="end" fill="#222" stroke="#222" >8</text>
<line x1="167.35" y1="92.3" x2="167.35" y2="95.30" stroke="#b0b0b0" stroke-width="0.8"/>
<text x="167.35" y="104.00" font-size="8.2" text-anchor="middle" fill="#222" stroke="#222" >−1.0</text>
<line x1="192.12" y1="92.3" x2="192.12" y2="95.30" stroke="#b0b0b0" stroke-width="0.8"/>
<text x="192.12" y="104.00" font-size="8.2" text-anchor="middle" fill="#222" stroke="#222" >−0.5</text>
<line x1="216.90" y1="92.3" x2="216.90" y2="95.30" stroke="#b0b0b0" stroke-width="0.8"/>
<text x="216.90" y="104.00" font-size="8.2" text-anchor="middle" fill="#222" stroke="#222" >0</text>
<line x1="241.67" y1="92.3" x2="241.67" y2="95.30" stroke="#b0b0b0" stroke-width="0.8"/>
<text x="241.67" y="104.00" font-size="8.2" text-anchor="middle" fill="#222" stroke="#222" >0.5</text>
<line x1="266.45" y1="92.3" x2="266.45" y2="95.30" stroke="#b0b0b0" stroke-width="0.8"/>
<text x="266.45" y="104.00" font-size="8.2" text-anchor="middle" fill="#222" stroke="#222" >1.0</text>
<text transform="translate(144.85,55) rotate(-90)" font-size="8.5" text-anchor="middle" fill="#222" stroke="#222">– log<tspan font-size="6" dy="2">10</tspan><tspan dy="-2" font-style="italic">P</tspan></text>
<text x="355.30" y="14.55" font-size="8.9" text-anchor="middle" fill="#222" stroke="#222" letter-spacing="0.15">CAD</text>
<rect x="300.30" y="18.3" width="109" height="74.00" fill="none" stroke="#b0b0b0" stroke-width="1"/>
<g clip-path="url(#clipa2)">
<g fill="#8ed18e"><circle cx="319.02" cy="62.29" r="1.7"/><circle cx="305.32" cy="66.28" r="1.7"/><circle cx="305.32" cy="68.28" r="1.7"/><circle cx="305.32" cy="69.61" r="1.7"/><circle cx="311.31" cy="67.34" r="1.7"/><circle cx="313.30" cy="70.01" r="1.7"/><circle cx="311.97" cy="73.33" r="1.7"/><circle cx="315.96" cy="73.33" r="1.7"/><circle cx="319.95" cy="72.27" r="1.7"/><circle cx="323.28" cy="71.60" r="1.7"/><circle cx="325.94" cy="69.87" r="1.7"/><circle cx="330.60" cy="74.26" r="1.7"/><circle cx="334.85" cy="70.67" r="1.7"/><circle cx="340.57" cy="74.93" r="1.7"/><circle cx="317.96" cy="76.92" r="1.7"/><circle cx="319.95" cy="81.58" r="1.7"/><circle cx="329.00" cy="83.57" r="1.7"/><circle cx="333.92" cy="85.57" r="1.7"/></g>
<polygon points="318.62,74.93 323.28,73.60 327.94,74.93 333.26,74.93 337.25,75.59 339.91,78.92 345.23,82.24 350.55,85.57 354.54,87.57 360.00,84.91 360.00,89.56 354.54,90.63 349.22,88.90 342.57,86.90 335.92,84.91 329.27,82.24 323.95,80.91 319.95,79.58" fill="#8ed18e" stroke="#8ed18e" stroke-width="1.2" stroke-linejoin="round"/>
<g fill="#8ed18e"><circle cx="318.93" cy="75.99" r="1.7"/><circle cx="322.05" cy="75.52" r="1.7"/><circle cx="321.40" cy="72.87" r="1.7"/><circle cx="323.18" cy="75.12" r="1.7"/><circle cx="326.38" cy="75.95" r="1.7"/><circle cx="326.23" cy="74.08" r="1.7"/><circle cx="328.95" cy="75.82" r="1.7"/><circle cx="328.99" cy="74.30" r="1.7"/><circle cx="331.69" cy="76.38" r="1.7"/><circle cx="333.19" cy="75.72" r="1.7"/><circle cx="335.32" cy="76.85" r="1.7"/><circle cx="335.21" cy="74.70" r="1.7"/><circle cx="335.93" cy="76.78" r="1.7"/><circle cx="337.82" cy="78.34" r="1.7"/><circle cx="339.91" cy="77.29" r="1.7"/><circle cx="339.46" cy="80.79" r="1.7"/><circle cx="340.71" cy="77.99" r="1.7"/><circle cx="340.77" cy="81.58" r="1.7"/><circle cx="342.80" cy="82.81" r="1.7"/><circle cx="344.74" cy="83.63" r="1.7"/><circle cx="346.48" cy="85.17" r="1.7"/><circle cx="348.43" cy="82.75" r="1.7"/><circle cx="348.38" cy="85.53" r="1.7"/><circle cx="350.30" cy="87.28" r="1.7"/><circle cx="351.03" cy="85.25" r="1.7"/><circle cx="351.91" cy="88.31" r="1.7"/><circle cx="352.57" cy="85.44" r="1.7"/><circle cx="355.55" cy="88.41" r="1.7"/><circle cx="354.09" cy="86.95" r="1.7"/><circle cx="357.62" cy="87.36" r="1.7"/><circle cx="356.39" cy="85.72" r="1.7"/><circle cx="358.75" cy="86.42" r="1.7"/><circle cx="359.05" cy="85.30" r="1.7"/><circle cx="359.12" cy="88.05" r="1.7"/><circle cx="359.43" cy="87.95" r="1.7"/><circle cx="357.82" cy="88.70" r="1.7"/><circle cx="355.28" cy="88.79" r="1.7"/><circle cx="354.76" cy="89.47" r="1.7"/><circle cx="352.50" cy="88.71" r="1.7"/><circle cx="350.46" cy="88.24" r="1.7"/><circle cx="348.55" cy="87.31" r="1.7"/><circle cx="347.12" cy="86.94" r="1.7"/><circle cx="345.09" cy="86.04" r="1.7"/><circle cx="342.79" cy="85.12" r="1.7"/><circle cx="340.04" cy="84.91" r="1.7"/><circle cx="338.28" cy="84.11" r="1.7"/><circle cx="336.33" cy="83.20" r="1.7"/><circle cx="334.06" cy="82.72" r="1.7"/><circle cx="331.28" cy="81.89" r="1.7"/><circle cx="328.87" cy="80.91" r="1.7"/><circle cx="327.25" cy="80.30" r="1.7"/><circle cx="325.74" cy="80.12" r="1.7"/><circle cx="324.17" cy="79.97" r="1.7"/><circle cx="321.46" cy="78.90" r="1.7"/><circle cx="320.59" cy="78.57" r="1.7"/><circle cx="320.23" cy="76.28" r="1.7"/></g>
<g fill="#8ed18e"><circle cx="393.24" cy="44.06" r="1.7"/><circle cx="381.53" cy="48.59" r="1.7"/><circle cx="397.23" cy="50.32" r="1.7"/><circle cx="404.28" cy="49.65" r="1.7"/><circle cx="396.30" cy="52.31" r="1.7"/><circle cx="398.56" cy="55.24" r="1.7"/><circle cx="388.58" cy="54.97" r="1.7"/><circle cx="387.25" cy="56.97" r="1.7"/><circle cx="386.58" cy="58.70" r="1.7"/><circle cx="392.57" cy="57.37" r="1.7"/><circle cx="394.57" cy="58.70" r="1.7"/><circle cx="377.94" cy="59.23" r="1.7"/><circle cx="379.00" cy="60.29" r="1.7"/><circle cx="400.55" cy="58.70" r="1.7"/><circle cx="399.22" cy="60.96" r="1.7"/><circle cx="404.28" cy="62.95" r="1.7"/><circle cx="371.55" cy="68.01" r="1.7"/><circle cx="365.30" cy="75.19" r="1.7"/><circle cx="404.28" cy="71.60" r="1.7"/><circle cx="403.21" cy="76.26" r="1.7"/><circle cx="404.54" cy="68.94" r="1.7"/></g>
<polygon points="350.00,85.57 354.66,88.23 359.31,85.57 362.64,80.91 367.29,76.26 371.95,72.93 377.27,64.29 384.59,63.62 393.90,61.62 403.21,62.95 405.21,65.62 403.21,70.94 400.55,76.26 396.56,78.25 389.91,80.25 383.26,82.91 376.61,85.57 369.95,87.57 363.30,88.90 356.65,90.63 350.00,89.83" fill="#8ed18e" stroke="#8ed18e" stroke-width="1.2" stroke-linejoin="round"/>
<g fill="#8ed18e"><circle cx="350.04" cy="86.86" r="1.7"/><circle cx="350.48" cy="85.13" r="1.7"/><circle cx="351.70" cy="88.34" r="1.7"/><circle cx="353.82" cy="86.06" r="1.7"/><circle cx="356.42" cy="89.23" r="1.7"/><circle cx="357.67" cy="87.75" r="1.7"/><circle cx="356.68" cy="85.43" r="1.7"/><circle cx="360.51" cy="86.01" r="1.7"/><circle cx="361.66" cy="84.08" r="1.7"/><circle cx="362.92" cy="83.05" r="1.7"/><circle cx="362.13" cy="81.89" r="1.7"/><circle cx="364.31" cy="81.45" r="1.7"/><circle cx="362.27" cy="80.08" r="1.7"/><circle cx="365.13" cy="79.99" r="1.7"/><circle cx="363.70" cy="78.94" r="1.7"/><circle cx="366.93" cy="78.00" r="1.7"/><circle cx="368.65" cy="77.21" r="1.7"/><circle cx="367.45" cy="75.03" r="1.7"/><circle cx="369.57" cy="75.59" r="1.7"/><circle cx="371.63" cy="74.50" r="1.7"/><circle cx="370.10" cy="72.05" r="1.7"/><circle cx="372.86" cy="73.44" r="1.7"/><circle cx="369.86" cy="71.95" r="1.7"/><circle cx="374.86" cy="71.25" r="1.7"/><circle cx="371.91" cy="69.56" r="1.7"/><circle cx="375.91" cy="69.71" r="1.7"/><circle cx="374.97" cy="68.58" r="1.7"/><circle cx="376.90" cy="68.32" r="1.7"/><circle cx="378.04" cy="66.26" r="1.7"/><circle cx="377.76" cy="65.08" r="1.7"/><circle cx="379.61" cy="65.42" r="1.7"/><circle cx="381.19" cy="65.55" r="1.7"/><circle cx="381.51" cy="62.31" r="1.7"/><circle cx="383.12" cy="65.13" r="1.7"/><circle cx="385.47" cy="64.84" r="1.7"/><circle cx="384.81" cy="63.09" r="1.7"/><circle cx="387.04" cy="64.11" r="1.7"/><circle cx="387.13" cy="62.59" r="1.7"/><circle cx="389.15" cy="63.70" r="1.7"/><circle cx="388.56" cy="61.44" r="1.7"/><circle cx="391.29" cy="63.37" r="1.7"/><circle cx="389.92" cy="60.30" r="1.7"/><circle cx="392.80" cy="63.03" r="1.7"/><circle cx="394.18" cy="63.29" r="1.7"/><circle cx="394.83" cy="60.15" r="1.7"/><circle cx="395.96" cy="63.55" r="1.7"/><circle cx="397.58" cy="63.25" r="1.7"/><circle cx="396.95" cy="61.49" r="1.7"/><circle cx="399.61" cy="63.44" r="1.7"/><circle cx="401.64" cy="63.64" r="1.7"/><circle cx="401.66" cy="61.57" r="1.7"/><circle cx="402.70" cy="63.69" r="1.7"/><circle cx="405.63" cy="61.87" r="1.7"/><circle cx="403.72" cy="65.14" r="1.7"/><circle cx="402.91" cy="67.77" r="1.7"/><circle cx="402.61" cy="68.80" r="1.7"/><circle cx="402.14" cy="70.88" r="1.7"/><circle cx="401.38" cy="72.84" r="1.7"/><circle cx="399.70" cy="74.64" r="1.7"/><circle cx="399.12" cy="74.96" r="1.7"/><circle cx="397.44" cy="76.64" r="1.7"/><circle cx="396.02" cy="77.45" r="1.7"/><circle cx="393.85" cy="77.37" r="1.7"/><circle cx="390.88" cy="78.81" r="1.7"/><circle cx="389.16" cy="78.96" r="1.7"/><circle cx="386.09" cy="79.84" r="1.7"/><circle cx="384.68" cy="80.58" r="1.7"/><circle cx="381.75" cy="81.80" r="1.7"/><circle cx="380.32" cy="83.03" r="1.7"/><circle cx="377.49" cy="84.00" r="1.7"/><circle cx="375.80" cy="84.37" r="1.7"/><circle cx="373.49" cy="84.74" r="1.7"/><circle cx="371.67" cy="86.19" r="1.7"/><circle cx="369.04" cy="86.25" r="1.7"/><circle cx="366.52" cy="86.67" r="1.7"/><circle cx="364.16" cy="86.87" r="1.7"/><circle cx="362.42" cy="87.76" r="1.7"/><circle cx="360.63" cy="88.45" r="1.7"/><circle cx="358.01" cy="89.38" r="1.7"/><circle cx="356.00" cy="89.59" r="1.7"/><circle cx="354.16" cy="88.47" r="1.7"/><circle cx="352.22" cy="89.27" r="1.7"/><circle cx="350.98" cy="89.36" r="1.7"/><circle cx="350.78" cy="86.93" r="1.7"/></g>
<g fill="#8ed18e"><circle cx="402.82" cy="21.39" r="1.7"/><circle cx="394.25" cy="32.95" r="1.7"/><circle cx="403.82" cy="32.35" r="1.7"/></g>
<g fill="#8ed18e"><circle cx="371.64" cy="67.78" r="1.7"/><circle cx="365.12" cy="75.23" r="1.7"/><circle cx="403.30" cy="76.16" r="1.7"/><circle cx="404.69" cy="71.97" r="1.7"/><circle cx="403.76" cy="69.17" r="1.7"/><circle cx="403.76" cy="66.38" r="1.7"/><circle cx="399.11" cy="60.79" r="1.7"/><circle cx="395.38" cy="60.33" r="1.7"/><circle cx="387.00" cy="58.47" r="1.7"/><circle cx="378.62" cy="59.40" r="1.7"/></g>
<g fill="#8ed18e"><circle cx="386.05" cy="60.52" r="1.6"/><circle cx="388.36" cy="60.60" r="1.6"/><circle cx="380.75" cy="61.76" r="1.6"/><circle cx="383.09" cy="61.72" r="1.6"/><circle cx="384.68" cy="62.18" r="1.6"/><circle cx="386.93" cy="62.02" r="1.6"/><circle cx="389.80" cy="62.74" r="1.6"/><circle cx="392.54" cy="62.57" r="1.6"/><circle cx="395.29" cy="62.52" r="1.6"/><circle cx="398.57" cy="62.90" r="1.6"/><circle cx="378.15" cy="64.88" r="1.6"/><circle cx="381.22" cy="63.86" r="1.6"/><circle cx="383.38" cy="65.18" r="1.6"/><circle cx="384.57" cy="64.63" r="1.6"/><circle cx="387.68" cy="64.95" r="1.6"/><circle cx="390.58" cy="64.74" r="1.6"/><circle cx="391.71" cy="64.38" r="1.6"/><circle cx="394.63" cy="63.84" r="1.6"/><circle cx="396.18" cy="64.94" r="1.6"/><circle cx="399.19" cy="64.13" r="1.6"/><circle cx="401.21" cy="63.89" r="1.6"/><circle cx="403.76" cy="64.77" r="1.6"/><circle cx="379.00" cy="66.94" r="1.6"/><circle cx="383.14" cy="66.03" r="1.6"/><circle cx="385.08" cy="66.71" r="1.6"/><circle cx="387.42" cy="66.53" r="1.6"/><circle cx="390.03" cy="66.50" r="1.6"/><circle cx="392.14" cy="67.54" r="1.6"/><circle cx="393.93" cy="67.04" r="1.6"/><circle cx="396.44" cy="66.76" r="1.6"/><circle cx="402.19" cy="66.02" r="1.6"/><circle cx="404.13" cy="67.36" r="1.6"/><circle cx="376.18" cy="68.91" r="1.6"/><circle cx="380.67" cy="68.85" r="1.6"/><circle cx="382.58" cy="68.82" r="1.6"/><circle cx="384.51" cy="69.66" r="1.6"/><circle cx="387.51" cy="69.17" r="1.6"/><circle cx="389.37" cy="68.37" r="1.6"/><circle cx="391.89" cy="69.42" r="1.6"/><circle cx="396.93" cy="68.39" r="1.6"/><circle cx="399.23" cy="69.84" r="1.6"/><circle cx="401.84" cy="68.95" r="1.6"/><circle cx="372.08" cy="71.60" r="1.6"/><circle cx="374.17" cy="72.10" r="1.6"/><circle cx="375.43" cy="71.86" r="1.6"/><circle cx="378.15" cy="70.78" r="1.6"/><circle cx="380.76" cy="71.96" r="1.6"/><circle cx="383.68" cy="70.90" r="1.6"/><circle cx="385.70" cy="71.60" r="1.6"/><circle cx="387.89" cy="71.10" r="1.6"/><circle cx="389.76" cy="70.63" r="1.6"/><circle cx="391.94" cy="71.35" r="1.6"/><circle cx="394.11" cy="71.30" r="1.6"/><circle cx="398.39" cy="71.54" r="1.6"/><circle cx="401.13" cy="70.71" r="1.6"/><circle cx="368.93" cy="74.05" r="1.6"/><circle cx="371.84" cy="74.08" r="1.6"/><circle cx="376.03" cy="73.31" r="1.6"/><circle cx="379.11" cy="73.07" r="1.6"/><circle cx="380.66" cy="73.91" r="1.6"/><circle cx="382.78" cy="74.45" r="1.6"/><circle cx="385.71" cy="73.01" r="1.6"/><circle cx="387.01" cy="72.96" r="1.6"/><circle cx="391.98" cy="73.10" r="1.6"/><circle cx="394.88" cy="74.34" r="1.6"/><circle cx="396.05" cy="74.11" r="1.6"/><circle cx="366.74" cy="76.54" r="1.6"/><circle cx="372.21" cy="76.17" r="1.6"/><circle cx="373.40" cy="75.58" r="1.6"/><circle cx="375.67" cy="75.49" r="1.6"/><circle cx="380.25" cy="76.07" r="1.6"/><circle cx="383.58" cy="76.55" r="1.6"/><circle cx="385.70" cy="76.48" r="1.6"/><circle cx="389.36" cy="76.25" r="1.6"/><circle cx="394.04" cy="76.58" r="1.6"/><circle cx="397.25" cy="76.54" r="1.6"/><circle cx="367.19" cy="77.61" r="1.6"/><circle cx="372.27" cy="77.51" r="1.6"/><circle cx="374.27" cy="78.57" r="1.6"/><circle cx="376.11" cy="77.83" r="1.6"/><circle cx="380.41" cy="78.87" r="1.6"/><circle cx="382.98" cy="77.68" r="1.6"/><circle cx="384.79" cy="78.56" r="1.6"/><circle cx="387.98" cy="78.26" r="1.6"/><circle cx="396.44" cy="77.75" r="1.6"/><circle cx="362.54" cy="80.63" r="1.6"/><circle cx="364.90" cy="81.33" r="1.6"/><circle cx="367.25" cy="80.40" r="1.6"/><circle cx="369.07" cy="81.32" r="1.6"/><circle cx="371.32" cy="80.42" r="1.6"/><circle cx="374.60" cy="79.77" r="1.6"/><circle cx="376.78" cy="80.17" r="1.6"/><circle cx="378.20" cy="80.15" r="1.6"/><circle cx="380.09" cy="81.11" r="1.6"/><circle cx="383.65" cy="79.84" r="1.6"/><circle cx="385.02" cy="80.80" r="1.6"/><circle cx="387.30" cy="81.32" r="1.6"/><circle cx="362.37" cy="82.42" r="1.6"/><circle cx="364.22" cy="83.52" r="1.6"/><circle cx="367.25" cy="82.90" r="1.6"/><circle cx="371.55" cy="82.90" r="1.6"/><circle cx="374.30" cy="82.44" r="1.6"/><circle cx="376.62" cy="82.80" r="1.6"/><circle cx="378.92" cy="83.49" r="1.6"/><circle cx="379.97" cy="82.67" r="1.6"/><circle cx="383.51" cy="82.26" r="1.6"/><circle cx="384.90" cy="82.23" r="1.6"/><circle cx="362.11" cy="84.39" r="1.6"/><circle cx="364.71" cy="84.45" r="1.6"/><circle cx="367.25" cy="84.80" r="1.6"/><circle cx="368.79" cy="85.70" r="1.6"/><circle cx="371.72" cy="85.74" r="1.6"/><circle cx="373.68" cy="85.63" r="1.6"/><circle cx="375.89" cy="84.43" r="1.6"/><circle cx="360.15" cy="87.40" r="1.6"/><circle cx="362.84" cy="87.33" r="1.6"/><circle cx="365.22" cy="87.37" r="1.6"/><circle cx="366.92" cy="87.98" r="1.6"/><circle cx="369.58" cy="87.30" r="1.6"/></g>
<g fill="#8ed18e"><circle cx="318.97" cy="62.19" r="1.7"/><circle cx="305.00" cy="66.85" r="1.7"/><circle cx="305.00" cy="69.17" r="1.7"/><circle cx="311.05" cy="67.12" r="1.7"/><circle cx="313.38" cy="69.92" r="1.7"/><circle cx="311.98" cy="72.90" r="1.7"/><circle cx="315.71" cy="73.36" r="1.7"/><circle cx="319.43" cy="72.43" r="1.7"/><circle cx="323.16" cy="71.78" r="1.7"/><circle cx="325.95" cy="69.92" r="1.7"/><circle cx="330.14" cy="73.83" r="1.7"/><circle cx="334.80" cy="70.57" r="1.7"/><circle cx="340.38" cy="74.76" r="1.7"/><circle cx="317.57" cy="76.62" r="1.7"/><circle cx="328.74" cy="83.61" r="1.7"/><circle cx="333.86" cy="85.47" r="1.7"/></g>
<g fill="#8ed18e"><circle cx="320.26" cy="75.89" r="1.6"/><circle cx="323.24" cy="74.49" r="1.6"/><circle cx="332.51" cy="75.30" r="1.6"/><circle cx="334.13" cy="75.48" r="1.6"/><circle cx="320.01" cy="77.07" r="1.6"/><circle cx="322.35" cy="77.59" r="1.6"/><circle cx="325.59" cy="77.22" r="1.6"/><circle cx="329.36" cy="76.75" r="1.6"/><circle cx="332.06" cy="77.05" r="1.6"/><circle cx="333.49" cy="77.44" r="1.6"/><circle cx="336.32" cy="77.78" r="1.6"/><circle cx="319.97" cy="80.43" r="1.6"/><circle cx="322.20" cy="80.48" r="1.6"/><circle cx="325.09" cy="80.55" r="1.6"/><circle cx="327.95" cy="80.05" r="1.6"/><circle cx="329.27" cy="79.72" r="1.6"/><circle cx="332.22" cy="79.28" r="1.6"/><circle cx="333.81" cy="79.11" r="1.6"/><circle cx="335.79" cy="79.88" r="1.6"/><circle cx="338.89" cy="79.74" r="1.6"/><circle cx="341.06" cy="79.15" r="1.6"/><circle cx="342.75" cy="79.92" r="1.6"/><circle cx="322.69" cy="81.49" r="1.6"/><circle cx="324.40" cy="82.15" r="1.6"/><circle cx="327.02" cy="81.61" r="1.6"/><circle cx="329.06" cy="81.50" r="1.6"/><circle cx="333.36" cy="82.81" r="1.6"/><circle cx="336.90" cy="82.21" r="1.6"/><circle cx="338.30" cy="82.50" r="1.6"/><circle cx="340.66" cy="81.35" r="1.6"/><circle cx="344.97" cy="82.22" r="1.6"/><circle cx="329.39" cy="83.74" r="1.6"/><circle cx="332.21" cy="84.68" r="1.6"/><circle cx="333.89" cy="83.82" r="1.6"/><circle cx="339.53" cy="84.86" r="1.6"/><circle cx="343.74" cy="84.62" r="1.6"/><circle cx="345.84" cy="84.95" r="1.6"/><circle cx="347.28" cy="84.75" r="1.6"/><circle cx="349.69" cy="85.14" r="1.6"/><circle cx="338.31" cy="86.21" r="1.6"/><circle cx="343.63" cy="87.03" r="1.6"/><circle cx="346.09" cy="87.17" r="1.6"/><circle cx="348.64" cy="87.22" r="1.6"/><circle cx="349.57" cy="86.94" r="1.6"/><circle cx="352.28" cy="86.85" r="1.6"/><circle cx="354.85" cy="89.78" r="1.6"/></g>
</g>
<line x1="355.30" y1="18.3" x2="355.30" y2="92.3" stroke="#cdcdcd" stroke-width="1" stroke-dasharray="3.2,1.8"/>
<line x1="367.50" y1="18.3" x2="367.50" y2="92.3" stroke="#8f8f8f" stroke-width="1"/>
<line x1="367.50" y1="75.5" x2="367.50" y2="89.8" stroke="#3a3a3a" stroke-width="1"/>
<line x1="300.30" y1="65.50" x2="409.30" y2="65.50" stroke="#505050" stroke-width="1"/>
<line x1="297.80" y1="89.50" x2="300.30" y2="89.50" stroke="#b0b0b0" stroke-width="0.8"/>
<text x="294.80" y="92.40" font-size="8.2" text-anchor="end" fill="#222" stroke="#222" >0</text>
<line x1="297.80" y1="71.70" x2="300.30" y2="71.70" stroke="#b0b0b0" stroke-width="0.8"/>
<text x="294.80" y="74.60" font-size="8.2" text-anchor="end" fill="#222" stroke="#222" >2</text>
<line x1="297.80" y1="53.90" x2="300.30" y2="53.90" stroke="#b0b0b0" stroke-width="0.8"/>
<text x="294.80" y="56.80" font-size="8.2" text-anchor="end" fill="#222" stroke="#222" >4</text>
<line x1="297.80" y1="36.10" x2="300.30" y2="36.10" stroke="#b0b0b0" stroke-width="0.8"/>
<text x="294.80" y="39.00" font-size="8.2" text-anchor="end" fill="#222" stroke="#222" >6</text>
<line x1="297.80" y1="18.30" x2="300.30" y2="18.30" stroke="#b0b0b0" stroke-width="0.8"/>
<text x="294.80" y="21.20" font-size="8.2" text-anchor="end" fill="#222" stroke="#222" >8</text>
<line x1="305.30" y1="92.3" x2="305.30" y2="95.30" stroke="#b0b0b0" stroke-width="0.8"/>
<text x="305.30" y="104.00" font-size="8.2" text-anchor="middle" fill="#222" stroke="#222" >−1.0</text>
<line x1="330.08" y1="92.3" x2="330.08" y2="95.30" stroke="#b0b0b0" stroke-width="0.8"/>
<text x="330.08" y="104.00" font-size="8.2" text-anchor="middle" fill="#222" stroke="#222" >−0.5</text>
<line x1="354.85" y1="92.3" x2="354.85" y2="95.30" stroke="#b0b0b0" stroke-width="0.8"/>
<text x="354.85" y="104.00" font-size="8.2" text-anchor="middle" fill="#222" stroke="#222" >0</text>
<line x1="379.62" y1="92.3" x2="379.62" y2="95.30" stroke="#b0b0b0" stroke-width="0.8"/>
<text x="379.62" y="104.00" font-size="8.2" text-anchor="middle" fill="#222" stroke="#222" >0.5</text>
<line x1="404.40" y1="92.3" x2="404.40" y2="95.30" stroke="#b0b0b0" stroke-width="0.8"/>
<text x="404.40" y="104.00" font-size="8.2" text-anchor="middle" fill="#222" stroke="#222" >1.0</text>
<text transform="translate(282.80,55) rotate(-90)" font-size="8.5" text-anchor="middle" fill="#222" stroke="#222">– log<tspan font-size="6" dy="2">10</tspan><tspan dy="-2" font-style="italic">P</tspan></text>
<text x="493.25" y="14.55" font-size="8.9" text-anchor="middle" fill="#222" stroke="#222" letter-spacing="0.15">Stroke</text>
<rect x="438.25" y="18.3" width="109" height="74.00" fill="none" stroke="#b0b0b0" stroke-width="1"/>
<g clip-path="url(#clipa3)">
<g fill="#8ed18e"><circle cx="443.06" cy="65.88" r="1.7"/><circle cx="443.32" cy="66.68" r="1.7"/><circle cx="458.62" cy="62.29" r="1.7"/><circle cx="456.62" cy="65.88" r="1.7"/><circle cx="457.95" cy="67.21" r="1.7"/><circle cx="451.04" cy="68.28" r="1.7"/><circle cx="446.25" cy="70.27" r="1.7"/><circle cx="448.91" cy="70.94" r="1.7"/><circle cx="455.03" cy="71.20" r="1.7"/><circle cx="459.55" cy="72.00" r="1.7"/><circle cx="464.34" cy="70.27" r="1.7"/><circle cx="467.27" cy="66.68" r="1.7"/><circle cx="471.26" cy="68.94" r="1.7"/><circle cx="469.26" cy="71.60" r="1.7"/><circle cx="473.25" cy="73.33" r="1.7"/><circle cx="446.25" cy="77.59" r="1.7"/><circle cx="451.30" cy="76.26" r="1.7"/><circle cx="451.30" cy="77.85" r="1.7"/></g>
<polygon points="450.64,74.26 455.29,73.60 459.95,74.26 464.61,74.93 469.93,74.26 475.25,75.59 479.24,78.92 484.56,82.91 489.88,86.24 493.87,87.57 498.00,85.30 498.00,89.83 492.54,90.63 485.89,88.23 479.24,86.24 472.59,84.24 465.94,83.57 461.95,82.91 457.95,79.58 452.63,78.25" fill="#8ed18e" stroke="#8ed18e" stroke-width="1.2" stroke-linejoin="round"/>
<g fill="#8ed18e"><circle cx="451.74" cy="75.07" r="1.7"/><circle cx="453.10" cy="74.89" r="1.7"/><circle cx="455.59" cy="75.32" r="1.7"/><circle cx="455.16" cy="72.71" r="1.7"/><circle cx="458.02" cy="75.73" r="1.7"/><circle cx="460.13" cy="76.10" r="1.7"/><circle cx="462.93" cy="75.56" r="1.7"/><circle cx="465.42" cy="76.67" r="1.7"/><circle cx="465.27" cy="73.31" r="1.7"/><circle cx="467.93" cy="75.87" r="1.7"/><circle cx="470.41" cy="75.75" r="1.7"/><circle cx="470.37" cy="72.37" r="1.7"/><circle cx="472.07" cy="76.37" r="1.7"/><circle cx="473.48" cy="76.80" r="1.7"/><circle cx="474.95" cy="77.43" r="1.7"/><circle cx="475.84" cy="75.49" r="1.7"/><circle cx="477.07" cy="79.40" r="1.7"/><circle cx="479.26" cy="76.96" r="1.7"/><circle cx="478.56" cy="79.91" r="1.7"/><circle cx="480.93" cy="81.54" r="1.7"/><circle cx="482.22" cy="82.87" r="1.7"/><circle cx="484.64" cy="80.05" r="1.7"/><circle cx="484.47" cy="84.64" r="1.7"/><circle cx="486.82" cy="81.55" r="1.7"/><circle cx="486.38" cy="85.32" r="1.7"/><circle cx="488.34" cy="83.22" r="1.7"/><circle cx="488.20" cy="86.55" r="1.7"/><circle cx="490.25" cy="84.48" r="1.7"/><circle cx="489.54" cy="87.79" r="1.7"/><circle cx="489.43" cy="85.44" r="1.7"/><circle cx="491.80" cy="88.13" r="1.7"/><circle cx="495.34" cy="87.88" r="1.7"/><circle cx="493.25" cy="85.19" r="1.7"/><circle cx="496.87" cy="87.36" r="1.7"/><circle cx="495.67" cy="85.56" r="1.7"/><circle cx="496.16" cy="85.74" r="1.7"/><circle cx="497.00" cy="87.87" r="1.7"/><circle cx="496.99" cy="88.69" r="1.7"/><circle cx="495.20" cy="88.74" r="1.7"/><circle cx="493.49" cy="89.35" r="1.7"/><circle cx="492.92" cy="89.05" r="1.7"/><circle cx="490.28" cy="88.33" r="1.7"/><circle cx="487.91" cy="87.25" r="1.7"/><circle cx="485.92" cy="87.01" r="1.7"/><circle cx="483.05" cy="85.96" r="1.7"/><circle cx="481.56" cy="85.40" r="1.7"/><circle cx="479.42" cy="84.59" r="1.7"/><circle cx="477.46" cy="83.94" r="1.7"/><circle cx="474.51" cy="83.60" r="1.7"/><circle cx="471.65" cy="83.07" r="1.7"/><circle cx="470.19" cy="83.14" r="1.7"/><circle cx="467.71" cy="82.14" r="1.7"/><circle cx="465.46" cy="82.25" r="1.7"/><circle cx="463.28" cy="82.22" r="1.7"/><circle cx="462.59" cy="81.51" r="1.7"/><circle cx="459.93" cy="79.31" r="1.7"/><circle cx="457.74" cy="77.85" r="1.7"/><circle cx="456.27" cy="77.30" r="1.7"/><circle cx="454.03" cy="77.42" r="1.7"/><circle cx="453.92" cy="77.12" r="1.7"/><circle cx="452.34" cy="75.47" r="1.7"/></g>
<g fill="#8ed18e"><circle cx="535.63" cy="28.63" r="1.7"/><circle cx="529.24" cy="49.39" r="1.7"/><circle cx="534.30" cy="52.98" r="1.7"/><circle cx="541.88" cy="56.30" r="1.7"/><circle cx="527.24" cy="58.96" r="1.7"/><circle cx="530.57" cy="58.30" r="1.7"/><circle cx="537.49" cy="58.30" r="1.7"/><circle cx="522.85" cy="62.29" r="1.7"/><circle cx="519.26" cy="63.22" r="1.7"/><circle cx="517.93" cy="64.95" r="1.7"/><circle cx="535.89" cy="63.62" r="1.7"/><circle cx="537.22" cy="62.95" r="1.7"/><circle cx="529.24" cy="64.95" r="1.7"/><circle cx="531.24" cy="67.61" r="1.7"/><circle cx="539.22" cy="67.61" r="1.7"/><circle cx="541.88" cy="66.95" r="1.7"/><circle cx="541.88" cy="70.94" r="1.7"/><circle cx="541.88" cy="73.60" r="1.7"/><circle cx="535.23" cy="70.27" r="1.7"/><circle cx="537.89" cy="71.60" r="1.7"/><circle cx="511.28" cy="71.60" r="1.7"/><circle cx="518.60" cy="68.94" r="1.7"/><circle cx="534.56" cy="76.92" r="1.7"/><circle cx="526.58" cy="78.92" r="1.7"/></g>
<polygon points="488.00,86.24 492.66,88.23 497.31,86.24 501.30,82.24 506.62,77.59 509.29,74.93 513.94,73.60 518.60,71.60 522.59,72.27 527.91,71.60 531.90,73.60 535.89,74.93 534.56,76.92 527.91,79.58 521.26,82.91 514.61,85.57 507.95,87.57 501.30,88.90 494.65,90.89 488.00,89.83" fill="#8ed18e" stroke="#8ed18e" stroke-width="1.2" stroke-linejoin="round"/>
<g fill="#8ed18e"><circle cx="488.48" cy="87.92" r="1.7"/><circle cx="490.41" cy="89.19" r="1.7"/><circle cx="490.61" cy="86.70" r="1.7"/><circle cx="493.66" cy="89.24" r="1.7"/><circle cx="496.32" cy="88.20" r="1.7"/><circle cx="494.76" cy="85.62" r="1.7"/><circle cx="499.04" cy="86.83" r="1.7"/><circle cx="499.81" cy="85.87" r="1.7"/><circle cx="501.55" cy="84.49" r="1.7"/><circle cx="503.07" cy="82.93" r="1.7"/><circle cx="504.46" cy="80.70" r="1.7"/><circle cx="506.43" cy="79.68" r="1.7"/><circle cx="505.40" cy="78.27" r="1.7"/><circle cx="507.93" cy="77.80" r="1.7"/><circle cx="505.85" cy="76.53" r="1.7"/><circle cx="509.71" cy="77.11" r="1.7"/><circle cx="510.13" cy="76.29" r="1.7"/><circle cx="508.83" cy="72.99" r="1.7"/><circle cx="512.02" cy="75.67" r="1.7"/><circle cx="510.51" cy="73.47" r="1.7"/><circle cx="515.01" cy="74.65" r="1.7"/><circle cx="516.98" cy="74.13" r="1.7"/><circle cx="516.29" cy="71.91" r="1.7"/><circle cx="518.75" cy="72.78" r="1.7"/><circle cx="520.54" cy="73.60" r="1.7"/><circle cx="521.74" cy="70.10" r="1.7"/><circle cx="523.40" cy="72.98" r="1.7"/><circle cx="525.45" cy="73.25" r="1.7"/><circle cx="525.49" cy="71.51" r="1.7"/><circle cx="528.00" cy="73.23" r="1.7"/><circle cx="529.38" cy="70.82" r="1.7"/><circle cx="529.36" cy="74.26" r="1.7"/><circle cx="532.12" cy="75.60" r="1.7"/><circle cx="532.53" cy="71.80" r="1.7"/><circle cx="534.08" cy="75.30" r="1.7"/><circle cx="534.14" cy="74.75" r="1.7"/><circle cx="533.63" cy="76.06" r="1.7"/><circle cx="531.68" cy="76.76" r="1.7"/><circle cx="529.45" cy="77.90" r="1.7"/><circle cx="526.70" cy="78.69" r="1.7"/><circle cx="525.44" cy="79.71" r="1.7"/><circle cx="523.56" cy="80.65" r="1.7"/><circle cx="522.08" cy="80.94" r="1.7"/><circle cx="519.80" cy="81.51" r="1.7"/><circle cx="517.54" cy="82.44" r="1.7"/><circle cx="515.22" cy="83.63" r="1.7"/><circle cx="513.57" cy="85.00" r="1.7"/><circle cx="511.93" cy="85.55" r="1.7"/><circle cx="508.76" cy="85.68" r="1.7"/><circle cx="507.05" cy="86.66" r="1.7"/><circle cx="505.16" cy="87.15" r="1.7"/><circle cx="502.45" cy="86.76" r="1.7"/><circle cx="500.73" cy="88.21" r="1.7"/><circle cx="498.56" cy="88.50" r="1.7"/><circle cx="495.40" cy="88.94" r="1.7"/><circle cx="494.29" cy="89.93" r="1.7"/><circle cx="492.47" cy="89.59" r="1.7"/><circle cx="489.56" cy="88.77" r="1.7"/><circle cx="489.78" cy="88.05" r="1.7"/></g>
<g fill="#8ed18e"><circle cx="518.02" cy="64.52" r="1.7"/><circle cx="520.35" cy="63.12" r="1.7"/><circle cx="522.67" cy="62.19" r="1.7"/><circle cx="519.42" cy="65.45" r="1.7"/><circle cx="529.66" cy="64.98" r="1.7"/><circle cx="531.52" cy="67.31" r="1.7"/><circle cx="532.92" cy="68.71" r="1.7"/><circle cx="535.24" cy="64.05" r="1.7"/><circle cx="537.11" cy="63.59" r="1.7"/><circle cx="538.97" cy="67.31" r="1.7"/><circle cx="541.76" cy="67.31" r="1.7"/><circle cx="541.76" cy="70.10" r="1.7"/><circle cx="541.76" cy="72.90" r="1.7"/><circle cx="538.97" cy="70.10" r="1.7"/><circle cx="536.18" cy="70.10" r="1.7"/><circle cx="533.38" cy="70.10" r="1.7"/><circle cx="528.73" cy="58.00" r="1.7"/><circle cx="538.04" cy="58.00" r="1.7"/></g>
<g fill="#8ed18e"><circle cx="518.54" cy="71.75" r="1.6"/><circle cx="525.03" cy="72.13" r="1.6"/><circle cx="509.72" cy="74.44" r="1.6"/><circle cx="511.25" cy="73.00" r="1.6"/><circle cx="513.47" cy="74.53" r="1.6"/><circle cx="515.90" cy="74.26" r="1.6"/><circle cx="518.72" cy="73.14" r="1.6"/><circle cx="521.62" cy="74.44" r="1.6"/><circle cx="523.86" cy="73.86" r="1.6"/><circle cx="525.60" cy="73.96" r="1.6"/><circle cx="528.38" cy="73.10" r="1.6"/><circle cx="530.27" cy="73.44" r="1.6"/><circle cx="531.71" cy="74.17" r="1.6"/><circle cx="507.57" cy="76.63" r="1.6"/><circle cx="508.86" cy="75.86" r="1.6"/><circle cx="512.22" cy="75.51" r="1.6"/><circle cx="514.87" cy="76.50" r="1.6"/><circle cx="515.72" cy="75.46" r="1.6"/><circle cx="518.86" cy="76.11" r="1.6"/><circle cx="520.85" cy="76.25" r="1.6"/><circle cx="523.97" cy="76.45" r="1.6"/><circle cx="526.26" cy="76.61" r="1.6"/><circle cx="527.15" cy="76.36" r="1.6"/><circle cx="530.09" cy="76.68" r="1.6"/><circle cx="533.21" cy="75.98" r="1.6"/><circle cx="534.40" cy="75.75" r="1.6"/><circle cx="505.69" cy="78.78" r="1.6"/><circle cx="506.80" cy="78.23" r="1.6"/><circle cx="511.53" cy="78.81" r="1.6"/><circle cx="514.72" cy="78.84" r="1.6"/><circle cx="515.77" cy="78.89" r="1.6"/><circle cx="518.90" cy="78.16" r="1.6"/><circle cx="521.75" cy="77.83" r="1.6"/><circle cx="525.45" cy="79.04" r="1.6"/><circle cx="528.65" cy="77.72" r="1.6"/><circle cx="529.86" cy="79.02" r="1.6"/><circle cx="505.21" cy="80.21" r="1.6"/><circle cx="507.94" cy="80.90" r="1.6"/><circle cx="509.75" cy="80.83" r="1.6"/><circle cx="511.49" cy="79.98" r="1.6"/><circle cx="513.32" cy="80.45" r="1.6"/><circle cx="519.00" cy="80.31" r="1.6"/><circle cx="520.48" cy="80.03" r="1.6"/><circle cx="523.15" cy="80.98" r="1.6"/><circle cx="499.75" cy="83.23" r="1.6"/><circle cx="502.86" cy="82.46" r="1.6"/><circle cx="504.26" cy="83.75" r="1.6"/><circle cx="507.44" cy="83.08" r="1.6"/><circle cx="508.80" cy="82.20" r="1.6"/><circle cx="511.21" cy="83.71" r="1.6"/><circle cx="514.46" cy="82.39" r="1.6"/><circle cx="516.00" cy="82.76" r="1.6"/><circle cx="518.08" cy="82.57" r="1.6"/><circle cx="520.66" cy="82.78" r="1.6"/><circle cx="522.86" cy="82.48" r="1.6"/><circle cx="499.65" cy="84.66" r="1.6"/><circle cx="502.08" cy="84.84" r="1.6"/><circle cx="504.29" cy="84.58" r="1.6"/><circle cx="507.15" cy="85.97" r="1.6"/><circle cx="508.81" cy="84.83" r="1.6"/><circle cx="516.44" cy="84.86" r="1.6"/><circle cx="519.28" cy="84.81" r="1.6"/><circle cx="498.02" cy="86.81" r="1.6"/><circle cx="500.68" cy="87.63" r="1.6"/><circle cx="502.60" cy="87.74" r="1.6"/><circle cx="507.58" cy="88.14" r="1.6"/><circle cx="510.14" cy="87.06" r="1.6"/></g>
<g fill="#8ed18e"><circle cx="458.83" cy="62.19" r="1.7"/><circle cx="443.00" cy="65.91" r="1.7"/><circle cx="456.97" cy="65.91" r="1.7"/><circle cx="457.43" cy="67.31" r="1.7"/><circle cx="451.38" cy="68.24" r="1.7"/><circle cx="446.26" cy="70.10" r="1.7"/><circle cx="448.59" cy="71.04" r="1.7"/><circle cx="455.10" cy="71.50" r="1.7"/><circle cx="459.76" cy="71.97" r="1.7"/><circle cx="464.42" cy="70.10" r="1.7"/><circle cx="467.21" cy="66.38" r="1.7"/><circle cx="471.40" cy="68.71" r="1.7"/><circle cx="469.54" cy="71.97" r="1.7"/><circle cx="473.26" cy="72.90" r="1.7"/><circle cx="446.26" cy="77.55" r="1.7"/><circle cx="476.52" cy="75.69" r="1.7"/></g>
<g fill="#8ed18e"><circle cx="454.33" cy="73.10" r="1.6"/><circle cx="453.23" cy="73.95" r="1.6"/><circle cx="455.33" cy="75.07" r="1.6"/><circle cx="456.84" cy="75.47" r="1.6"/><circle cx="464.99" cy="75.37" r="1.6"/><circle cx="469.11" cy="75.16" r="1.6"/><circle cx="470.70" cy="74.28" r="1.6"/><circle cx="472.71" cy="74.15" r="1.6"/><circle cx="454.56" cy="77.46" r="1.6"/><circle cx="456.96" cy="77.55" r="1.6"/><circle cx="460.21" cy="77.63" r="1.6"/><circle cx="461.47" cy="76.26" r="1.6"/><circle cx="464.61" cy="76.67" r="1.6"/><circle cx="465.76" cy="76.51" r="1.6"/><circle cx="468.06" cy="76.60" r="1.6"/><circle cx="471.49" cy="77.81" r="1.6"/><circle cx="475.19" cy="76.77" r="1.6"/><circle cx="477.76" cy="76.90" r="1.6"/><circle cx="452.85" cy="78.61" r="1.6"/><circle cx="455.36" cy="79.15" r="1.6"/><circle cx="460.13" cy="78.68" r="1.6"/><circle cx="461.45" cy="79.66" r="1.6"/><circle cx="464.71" cy="78.90" r="1.6"/><circle cx="466.81" cy="79.44" r="1.6"/><circle cx="468.36" cy="79.46" r="1.6"/><circle cx="471.36" cy="78.92" r="1.6"/><circle cx="473.33" cy="79.39" r="1.6"/><circle cx="475.00" cy="79.69" r="1.6"/><circle cx="477.71" cy="79.56" r="1.6"/><circle cx="462.55" cy="81.57" r="1.6"/><circle cx="463.64" cy="81.64" r="1.6"/><circle cx="466.33" cy="81.98" r="1.6"/><circle cx="469.29" cy="81.00" r="1.6"/><circle cx="470.97" cy="81.61" r="1.6"/><circle cx="473.72" cy="81.19" r="1.6"/><circle cx="475.71" cy="81.97" r="1.6"/><circle cx="481.04" cy="81.82" r="1.6"/><circle cx="463.62" cy="83.25" r="1.6"/><circle cx="466.60" cy="84.46" r="1.6"/><circle cx="468.33" cy="84.36" r="1.6"/><circle cx="470.89" cy="83.33" r="1.6"/><circle cx="474.20" cy="83.32" r="1.6"/><circle cx="478.01" cy="84.66" r="1.6"/><circle cx="480.01" cy="83.88" r="1.6"/><circle cx="483.02" cy="83.34" r="1.6"/><circle cx="471.66" cy="85.86" r="1.6"/><circle cx="473.25" cy="86.00" r="1.6"/><circle cx="483.14" cy="87.02" r="1.6"/><circle cx="485.36" cy="86.73" r="1.6"/><circle cx="487.50" cy="86.04" r="1.6"/><circle cx="488.96" cy="86.29" r="1.6"/><circle cx="482.59" cy="88.37" r="1.6"/><circle cx="485.68" cy="88.23" r="1.6"/><circle cx="489.92" cy="88.23" r="1.6"/><circle cx="491.97" cy="87.90" r="1.6"/></g>
</g>
<line x1="493.25" y1="18.3" x2="493.25" y2="92.3" stroke="#cdcdcd" stroke-width="1" stroke-dasharray="3.2,1.8"/>
<line x1="501.50" y1="18.3" x2="501.50" y2="92.3" stroke="#6a6a6a" stroke-width="1"/>
<line x1="501.50" y1="70" x2="501.50" y2="89.8" stroke="#3a3a3a" stroke-width="1"/>
<line x1="438.25" y1="58.50" x2="547.25" y2="58.50" stroke="#505050" stroke-width="1"/>
<line x1="527" y1="58.5" x2="530.8" y2="58.5" stroke="#2a2a2a" stroke-width="1.5" stroke-linecap="round"/>
<line x1="536.7" y1="58.5" x2="538.8" y2="58.5" stroke="#2a2a2a" stroke-width="1.5" stroke-linecap="round"/>
<line x1="435.75" y1="89.50" x2="438.25" y2="89.50" stroke="#b0b0b0" stroke-width="0.8"/>
<text x="432.75" y="92.40" font-size="8.2" text-anchor="end" fill="#222" stroke="#222" >0</text>
<line x1="435.75" y1="71.70" x2="438.25" y2="71.70" stroke="#b0b0b0" stroke-width="0.8"/>
<text x="432.75" y="74.60" font-size="8.2" text-anchor="end" fill="#222" stroke="#222" >2</text>
<line x1="435.75" y1="53.90" x2="438.25" y2="53.90" stroke="#b0b0b0" stroke-width="0.8"/>
<text x="432.75" y="56.80" font-size="8.2" text-anchor="end" fill="#222" stroke="#222" >4</text>
<line x1="435.75" y1="36.10" x2="438.25" y2="36.10" stroke="#b0b0b0" stroke-width="0.8"/>
<text x="432.75" y="39.00" font-size="8.2" text-anchor="end" fill="#222" stroke="#222" >6</text>
<line x1="435.75" y1="18.30" x2="438.25" y2="18.30" stroke="#b0b0b0" stroke-width="0.8"/>
<text x="432.75" y="21.20" font-size="8.2" text-anchor="end" fill="#222" stroke="#222" >8</text>
<line x1="443.25" y1="92.3" x2="443.25" y2="95.30" stroke="#b0b0b0" stroke-width="0.8"/>
<text x="443.25" y="104.00" font-size="8.2" text-anchor="middle" fill="#222" stroke="#222" >−1.0</text>
<line x1="468.03" y1="92.3" x2="468.03" y2="95.30" stroke="#b0b0b0" stroke-width="0.8"/>
<text x="468.03" y="104.00" font-size="8.2" text-anchor="middle" fill="#222" stroke="#222" >−0.5</text>
<line x1="492.80" y1="92.3" x2="492.80" y2="95.30" stroke="#b0b0b0" stroke-width="0.8"/>
<text x="492.80" y="104.00" font-size="8.2" text-anchor="middle" fill="#222" stroke="#222" >0</text>
<line x1="517.58" y1="92.3" x2="517.58" y2="95.30" stroke="#b0b0b0" stroke-width="0.8"/>
<text x="517.58" y="104.00" font-size="8.2" text-anchor="middle" fill="#222" stroke="#222" >0.5</text>
<line x1="542.35" y1="92.3" x2="542.35" y2="95.30" stroke="#b0b0b0" stroke-width="0.8"/>
<text x="542.35" y="104.00" font-size="8.2" text-anchor="middle" fill="#222" stroke="#222" >1.0</text>
<text transform="translate(420.75,55) rotate(-90)" font-size="8.5" text-anchor="middle" fill="#222" stroke="#222">– log<tspan font-size="6" dy="2">10</tspan><tspan dy="-2" font-style="italic">P</tspan></text>
<text x="630.80" y="14.55" font-size="8.9" text-anchor="middle" fill="#222" stroke="#222" letter-spacing="0.15">AF</text>
<rect x="575.80" y="18.3" width="109" height="74.00" fill="none" stroke="#b0b0b0" stroke-width="1"/>
<g clip-path="url(#clipa4)">
<g fill="#8ed18e"><circle cx="589.30" cy="48.06" r="1.7"/><circle cx="590.37" cy="58.96" r="1.7"/><circle cx="585.58" cy="63.35" r="1.7"/><circle cx="580.66" cy="66.68" r="1.7"/><circle cx="583.32" cy="68.54" r="1.7"/><circle cx="582.92" cy="70.94" r="1.7"/><circle cx="584.25" cy="72.53" r="1.7"/><circle cx="587.97" cy="66.68" r="1.7"/><circle cx="589.30" cy="68.01" r="1.7"/><circle cx="594.62" cy="67.61" r="1.7"/><circle cx="596.22" cy="67.61" r="1.7"/><circle cx="595.69" cy="68.94" r="1.7"/><circle cx="600.61" cy="64.29" r="1.7"/><circle cx="602.61" cy="62.69" r="1.7"/><circle cx="605.93" cy="66.95" r="1.7"/><circle cx="608.59" cy="69.61" r="1.7"/><circle cx="603.94" cy="70.27" r="1.7"/><circle cx="605.00" cy="72.27" r="1.7"/><circle cx="614.31" cy="73.60" r="1.7"/><circle cx="588.24" cy="74.93" r="1.7"/><circle cx="591.96" cy="76.92" r="1.7"/></g>
<polygon points="594.62,74.93 597.95,72.93 602.61,74.26 607.93,74.26 611.92,76.26 615.91,78.92 621.23,82.24 626.55,84.91 630.54,86.90 636.00,84.24 636.00,89.56 630.54,90.63 625.22,88.90 618.57,87.57 611.92,86.24 605.27,84.91 599.95,82.91 595.95,80.25 593.29,78.25" fill="#8ed18e" stroke="#8ed18e" stroke-width="1.2" stroke-linejoin="round"/>
<g fill="#8ed18e"><circle cx="596.01" cy="75.67" r="1.7"/><circle cx="597.53" cy="75.22" r="1.7"/><circle cx="597.87" cy="74.13" r="1.7"/><circle cx="599.17" cy="70.96" r="1.7"/><circle cx="599.93" cy="75.35" r="1.7"/><circle cx="600.68" cy="72.27" r="1.7"/><circle cx="603.56" cy="75.51" r="1.7"/><circle cx="604.20" cy="72.97" r="1.7"/><circle cx="606.32" cy="75.43" r="1.7"/><circle cx="606.92" cy="72.55" r="1.7"/><circle cx="607.37" cy="75.93" r="1.7"/><circle cx="609.82" cy="76.54" r="1.7"/><circle cx="612.29" cy="77.71" r="1.7"/><circle cx="613.82" cy="76.11" r="1.7"/><circle cx="613.34" cy="78.86" r="1.7"/><circle cx="616.01" cy="80.08" r="1.7"/><circle cx="617.83" cy="81.76" r="1.7"/><circle cx="618.68" cy="82.74" r="1.7"/><circle cx="621.13" cy="84.13" r="1.7"/><circle cx="622.24" cy="80.74" r="1.7"/><circle cx="622.43" cy="84.33" r="1.7"/><circle cx="624.76" cy="86.05" r="1.7"/><circle cx="626.86" cy="86.61" r="1.7"/><circle cx="628.76" cy="84.03" r="1.7"/><circle cx="628.33" cy="87.40" r="1.7"/><circle cx="629.18" cy="85.38" r="1.7"/><circle cx="631.58" cy="87.83" r="1.7"/><circle cx="630.55" cy="86.39" r="1.7"/><circle cx="633.71" cy="87.13" r="1.7"/><circle cx="632.70" cy="84.99" r="1.7"/><circle cx="634.97" cy="86.34" r="1.7"/><circle cx="634.58" cy="84.51" r="1.7"/><circle cx="634.40" cy="87.86" r="1.7"/><circle cx="635.05" cy="88.16" r="1.7"/><circle cx="633.61" cy="88.30" r="1.7"/><circle cx="631.36" cy="89.62" r="1.7"/><circle cx="630.10" cy="89.15" r="1.7"/><circle cx="628.96" cy="89.21" r="1.7"/><circle cx="626.76" cy="87.80" r="1.7"/><circle cx="625.32" cy="87.61" r="1.7"/><circle cx="622.66" cy="86.47" r="1.7"/><circle cx="620.73" cy="86.35" r="1.7"/><circle cx="618.49" cy="86.54" r="1.7"/><circle cx="616.41" cy="85.88" r="1.7"/><circle cx="613.67" cy="85.45" r="1.7"/><circle cx="611.94" cy="85.20" r="1.7"/><circle cx="609.80" cy="84.80" r="1.7"/><circle cx="607.39" cy="83.97" r="1.7"/><circle cx="605.56" cy="83.62" r="1.7"/><circle cx="603.75" cy="82.37" r="1.7"/><circle cx="601.93" cy="81.71" r="1.7"/><circle cx="600.03" cy="81.77" r="1.7"/><circle cx="597.88" cy="80.41" r="1.7"/><circle cx="596.24" cy="79.40" r="1.7"/><circle cx="595.47" cy="77.77" r="1.7"/><circle cx="592.71" cy="76.73" r="1.7"/></g>
<g fill="#8ed18e"><circle cx="679.54" cy="55.64" r="1.7"/><circle cx="662.25" cy="57.37" r="1.7"/><circle cx="659.85" cy="61.36" r="1.7"/><circle cx="668.24" cy="63.62" r="1.7"/><circle cx="650.54" cy="66.95" r="1.7"/><circle cx="655.60" cy="66.68" r="1.7"/><circle cx="659.59" cy="66.28" r="1.7"/><circle cx="662.91" cy="68.94" r="1.7"/><circle cx="656.66" cy="70.94" r="1.7"/><circle cx="676.88" cy="64.02" r="1.7"/><circle cx="679.54" cy="63.22" r="1.7"/><circle cx="672.23" cy="67.61" r="1.7"/><circle cx="675.55" cy="69.61" r="1.7"/><circle cx="678.88" cy="69.61" r="1.7"/><circle cx="679.54" cy="72.93" r="1.7"/><circle cx="676.22" cy="73.60" r="1.7"/><circle cx="671.56" cy="75.59" r="1.7"/><circle cx="671.56" cy="78.92" r="1.7"/><circle cx="637.64" cy="82.24" r="1.7"/></g>
<polygon points="625.00,85.30 630.32,87.57 634.98,84.91 639.63,80.25 644.95,76.26 650.28,72.93 655.60,69.61 660.92,70.27 667.57,68.94 671.56,70.94 678.21,71.60 678.88,74.26 674.22,77.59 668.90,78.25 663.58,80.91 656.93,84.24 650.28,86.24 643.62,88.23 636.97,89.56 630.32,90.89 625.00,89.83" fill="#8ed18e" stroke="#8ed18e" stroke-width="1.2" stroke-linejoin="round"/>
<g fill="#8ed18e"><circle cx="624.71" cy="86.85" r="1.7"/><circle cx="626.27" cy="84.89" r="1.7"/><circle cx="626.98" cy="86.99" r="1.7"/><circle cx="628.74" cy="88.16" r="1.7"/><circle cx="632.00" cy="88.01" r="1.7"/><circle cx="631.07" cy="86.20" r="1.7"/><circle cx="634.21" cy="87.17" r="1.7"/><circle cx="635.92" cy="85.62" r="1.7"/><circle cx="638.15" cy="83.75" r="1.7"/><circle cx="639.63" cy="82.82" r="1.7"/><circle cx="640.58" cy="80.76" r="1.7"/><circle cx="639.39" cy="78.38" r="1.7"/><circle cx="642.11" cy="79.81" r="1.7"/><circle cx="644.33" cy="78.20" r="1.7"/><circle cx="645.99" cy="77.22" r="1.7"/><circle cx="647.98" cy="75.90" r="1.7"/><circle cx="646.96" cy="73.92" r="1.7"/><circle cx="649.76" cy="74.51" r="1.7"/><circle cx="648.38" cy="72.73" r="1.7"/><circle cx="651.81" cy="73.59" r="1.7"/><circle cx="651.23" cy="71.64" r="1.7"/><circle cx="653.00" cy="73.04" r="1.7"/><circle cx="650.96" cy="71.17" r="1.7"/><circle cx="655.03" cy="71.06" r="1.7"/><circle cx="653.85" cy="69.92" r="1.7"/><circle cx="656.38" cy="71.28" r="1.7"/><circle cx="659.35" cy="71.47" r="1.7"/><circle cx="661.37" cy="72.01" r="1.7"/><circle cx="661.38" cy="69.60" r="1.7"/><circle cx="664.32" cy="70.81" r="1.7"/><circle cx="664.21" cy="67.72" r="1.7"/><circle cx="666.38" cy="71.07" r="1.7"/><circle cx="665.18" cy="68.85" r="1.7"/><circle cx="666.90" cy="70.34" r="1.7"/><circle cx="669.25" cy="70.85" r="1.7"/><circle cx="670.67" cy="68.69" r="1.7"/><circle cx="672.52" cy="72.21" r="1.7"/><circle cx="674.14" cy="72.41" r="1.7"/><circle cx="675.28" cy="70.47" r="1.7"/><circle cx="676.94" cy="73.03" r="1.7"/><circle cx="676.47" cy="70.85" r="1.7"/><circle cx="676.79" cy="72.45" r="1.7"/><circle cx="679.96" cy="71.75" r="1.7"/><circle cx="678.12" cy="73.26" r="1.7"/><circle cx="675.89" cy="74.66" r="1.7"/><circle cx="674.41" cy="75.31" r="1.7"/><circle cx="673.28" cy="76.55" r="1.7"/><circle cx="670.81" cy="76.19" r="1.7"/><circle cx="667.34" cy="77.04" r="1.7"/><circle cx="666.21" cy="78.56" r="1.7"/><circle cx="664.66" cy="79.03" r="1.7"/><circle cx="662.66" cy="80.50" r="1.7"/><circle cx="660.52" cy="80.61" r="1.7"/><circle cx="659.48" cy="82.09" r="1.7"/><circle cx="657.38" cy="82.64" r="1.7"/><circle cx="655.78" cy="83.12" r="1.7"/><circle cx="653.55" cy="83.97" r="1.7"/><circle cx="650.90" cy="84.14" r="1.7"/><circle cx="648.83" cy="85.15" r="1.7"/><circle cx="647.37" cy="85.87" r="1.7"/><circle cx="645.04" cy="85.96" r="1.7"/><circle cx="642.42" cy="86.80" r="1.7"/><circle cx="640.13" cy="87.03" r="1.7"/><circle cx="638.21" cy="88.17" r="1.7"/><circle cx="635.92" cy="88.69" r="1.7"/><circle cx="633.89" cy="89.21" r="1.7"/><circle cx="631.33" cy="89.35" r="1.7"/><circle cx="630.43" cy="89.09" r="1.7"/><circle cx="628.83" cy="88.76" r="1.7"/><circle cx="626.29" cy="89.13" r="1.7"/><circle cx="626.41" cy="88.97" r="1.7"/><circle cx="626.42" cy="86.54" r="1.7"/></g>
<g fill="#8ed18e"><circle cx="649.90" cy="66.85" r="1.7"/><circle cx="653.62" cy="66.38" r="1.7"/><circle cx="659.67" cy="61.26" r="1.7"/><circle cx="662.00" cy="58.00" r="1.7"/><circle cx="668.05" cy="63.12" r="1.7"/><circle cx="669.45" cy="66.38" r="1.7"/><circle cx="673.18" cy="67.78" r="1.7"/><circle cx="675.97" cy="64.52" r="1.7"/><circle cx="678.76" cy="63.59" r="1.7"/><circle cx="679.69" cy="62.66" r="1.7"/><circle cx="679.69" cy="67.31" r="1.7"/><circle cx="679.69" cy="71.04" r="1.7"/><circle cx="678.76" cy="73.83" r="1.7"/><circle cx="675.97" cy="71.97" r="1.7"/><circle cx="675.04" cy="75.69" r="1.7"/><circle cx="672.24" cy="79.42" r="1.7"/></g>
<g fill="#8ed18e"><circle cx="653.75" cy="69.05" r="1.6"/><circle cx="656.39" cy="68.18" r="1.6"/><circle cx="658.50" cy="68.07" r="1.6"/><circle cx="660.30" cy="68.42" r="1.6"/><circle cx="663.29" cy="68.64" r="1.6"/><circle cx="664.50" cy="69.34" r="1.6"/><circle cx="650.57" cy="70.40" r="1.6"/><circle cx="653.39" cy="70.61" r="1.6"/><circle cx="655.79" cy="71.40" r="1.6"/><circle cx="657.46" cy="71.60" r="1.6"/><circle cx="661.04" cy="71.75" r="1.6"/><circle cx="662.73" cy="71.73" r="1.6"/><circle cx="664.98" cy="70.68" r="1.6"/><circle cx="666.73" cy="70.38" r="1.6"/><circle cx="648.89" cy="72.81" r="1.6"/><circle cx="650.49" cy="73.82" r="1.6"/><circle cx="655.99" cy="73.62" r="1.6"/><circle cx="660.00" cy="73.39" r="1.6"/><circle cx="662.47" cy="73.92" r="1.6"/><circle cx="665.42" cy="72.50" r="1.6"/><circle cx="666.69" cy="73.81" r="1.6"/><circle cx="647.29" cy="76.37" r="1.6"/><circle cx="649.05" cy="75.04" r="1.6"/><circle cx="653.01" cy="75.01" r="1.6"/><circle cx="655.14" cy="75.72" r="1.6"/><circle cx="657.46" cy="75.58" r="1.6"/><circle cx="660.40" cy="75.44" r="1.6"/><circle cx="661.82" cy="74.87" r="1.6"/><circle cx="664.48" cy="75.99" r="1.6"/><circle cx="667.72" cy="75.17" r="1.6"/><circle cx="669.46" cy="75.40" r="1.6"/><circle cx="672.22" cy="75.14" r="1.6"/><circle cx="644.44" cy="77.76" r="1.6"/><circle cx="646.52" cy="78.58" r="1.6"/><circle cx="648.25" cy="77.57" r="1.6"/><circle cx="651.76" cy="78.21" r="1.6"/><circle cx="652.87" cy="77.15" r="1.6"/><circle cx="656.26" cy="78.12" r="1.6"/><circle cx="658.20" cy="77.17" r="1.6"/><circle cx="660.04" cy="77.24" r="1.6"/><circle cx="662.95" cy="77.90" r="1.6"/><circle cx="665.17" cy="77.77" r="1.6"/><circle cx="666.55" cy="78.52" r="1.6"/><circle cx="669.06" cy="77.72" r="1.6"/><circle cx="639.49" cy="79.63" r="1.6"/><circle cx="643.56" cy="80.18" r="1.6"/><circle cx="646.01" cy="80.45" r="1.6"/><circle cx="651.60" cy="80.14" r="1.6"/><circle cx="653.37" cy="79.58" r="1.6"/><circle cx="657.27" cy="80.52" r="1.6"/><circle cx="659.68" cy="79.90" r="1.6"/><circle cx="662.73" cy="80.54" r="1.6"/><circle cx="665.21" cy="79.97" r="1.6"/><circle cx="669.40" cy="79.39" r="1.6"/><circle cx="635.60" cy="82.83" r="1.6"/><circle cx="637.11" cy="82.75" r="1.6"/><circle cx="638.87" cy="82.25" r="1.6"/><circle cx="644.66" cy="83.06" r="1.6"/><circle cx="648.91" cy="81.99" r="1.6"/><circle cx="651.07" cy="82.22" r="1.6"/><circle cx="653.42" cy="82.62" r="1.6"/><circle cx="655.34" cy="82.48" r="1.6"/><circle cx="657.87" cy="82.74" r="1.6"/><circle cx="660.35" cy="82.12" r="1.6"/><circle cx="635.37" cy="84.32" r="1.6"/><circle cx="637.07" cy="84.47" r="1.6"/><circle cx="640.01" cy="85.15" r="1.6"/><circle cx="641.47" cy="85.23" r="1.6"/><circle cx="644.48" cy="85.00" r="1.6"/><circle cx="646.14" cy="84.08" r="1.6"/><circle cx="648.05" cy="85.52" r="1.6"/><circle cx="651.37" cy="85.53" r="1.6"/><circle cx="652.97" cy="84.52" r="1.6"/><circle cx="635.56" cy="86.81" r="1.6"/><circle cx="637.93" cy="86.96" r="1.6"/><circle cx="640.04" cy="86.88" r="1.6"/><circle cx="642.54" cy="86.98" r="1.6"/><circle cx="644.35" cy="86.69" r="1.6"/><circle cx="646.32" cy="86.89" r="1.6"/></g>
<g fill="#8ed18e"><circle cx="590.31" cy="58.93" r="1.7"/><circle cx="585.66" cy="63.12" r="1.7"/><circle cx="601.02" cy="64.05" r="1.7"/><circle cx="602.88" cy="62.19" r="1.7"/><circle cx="602.42" cy="66.85" r="1.7"/><circle cx="606.14" cy="67.31" r="1.7"/><circle cx="608.47" cy="69.64" r="1.7"/><circle cx="603.81" cy="70.57" r="1.7"/><circle cx="605.21" cy="71.97" r="1.7"/><circle cx="614.52" cy="73.36" r="1.7"/><circle cx="587.98" cy="66.85" r="1.7"/><circle cx="589.85" cy="66.85" r="1.7"/><circle cx="594.04" cy="67.31" r="1.7"/><circle cx="595.90" cy="68.24" r="1.7"/><circle cx="595.90" cy="66.85" r="1.7"/><circle cx="582.86" cy="68.24" r="1.7"/><circle cx="583.79" cy="70.10" r="1.7"/><circle cx="584.26" cy="71.97" r="1.7"/><circle cx="588.45" cy="74.76" r="1.7"/><circle cx="592.17" cy="77.09" r="1.7"/><circle cx="581.00" cy="65.45" r="1.7"/><circle cx="598.69" cy="73.36" r="1.7"/></g>
<g fill="#8ed18e"><circle cx="595.66" cy="75.00" r="1.6"/><circle cx="597.55" cy="74.30" r="1.6"/><circle cx="599.94" cy="75.26" r="1.6"/><circle cx="602.68" cy="73.98" r="1.6"/><circle cx="605.34" cy="75.02" r="1.6"/><circle cx="593.55" cy="77.15" r="1.6"/><circle cx="595.31" cy="77.56" r="1.6"/><circle cx="598.11" cy="76.81" r="1.6"/><circle cx="600.76" cy="77.55" r="1.6"/><circle cx="601.67" cy="77.21" r="1.6"/><circle cx="605.30" cy="77.79" r="1.6"/><circle cx="606.53" cy="77.59" r="1.6"/><circle cx="609.73" cy="77.07" r="1.6"/><circle cx="612.13" cy="76.94" r="1.6"/><circle cx="596.19" cy="79.24" r="1.6"/><circle cx="597.35" cy="80.01" r="1.6"/><circle cx="600.38" cy="78.90" r="1.6"/><circle cx="602.98" cy="79.42" r="1.6"/><circle cx="605.18" cy="78.76" r="1.6"/><circle cx="606.85" cy="79.79" r="1.6"/><circle cx="608.72" cy="80.06" r="1.6"/><circle cx="611.90" cy="79.86" r="1.6"/><circle cx="614.12" cy="79.17" r="1.6"/><circle cx="615.65" cy="80.06" r="1.6"/><circle cx="602.07" cy="82.13" r="1.6"/><circle cx="604.25" cy="81.85" r="1.6"/><circle cx="606.71" cy="81.76" r="1.6"/><circle cx="609.10" cy="80.84" r="1.6"/><circle cx="611.11" cy="82.16" r="1.6"/><circle cx="613.97" cy="81.83" r="1.6"/><circle cx="616.55" cy="81.30" r="1.6"/><circle cx="618.86" cy="81.92" r="1.6"/><circle cx="604.12" cy="83.19" r="1.6"/><circle cx="607.02" cy="83.99" r="1.6"/><circle cx="609.65" cy="83.62" r="1.6"/><circle cx="611.07" cy="84.05" r="1.6"/><circle cx="613.60" cy="83.90" r="1.6"/><circle cx="616.33" cy="84.24" r="1.6"/><circle cx="618.49" cy="84.30" r="1.6"/><circle cx="621.25" cy="84.52" r="1.6"/><circle cx="616.12" cy="86.14" r="1.6"/><circle cx="618.83" cy="86.76" r="1.6"/><circle cx="622.86" cy="86.49" r="1.6"/><circle cx="625.24" cy="86.35" r="1.6"/><circle cx="627.70" cy="86.82" r="1.6"/><circle cx="626.84" cy="88.89" r="1.6"/><circle cx="629.39" cy="88.36" r="1.6"/></g>
</g>
<line x1="630.80" y1="18.3" x2="630.80" y2="92.3" stroke="#cdcdcd" stroke-width="1" stroke-dasharray="3.2,1.8"/>
<line x1="635.50" y1="18.3" x2="635.50" y2="92.3" stroke="#6a6a6a" stroke-width="1"/>
<line x1="635.50" y1="70" x2="635.50" y2="89.8" stroke="#3a3a3a" stroke-width="1"/>
<line x1="575.80" y1="55.50" x2="684.80" y2="55.50" stroke="#505050" stroke-width="1"/>
<line x1="573.30" y1="89.50" x2="575.80" y2="89.50" stroke="#b0b0b0" stroke-width="0.8"/>
<text x="570.30" y="92.40" font-size="8.2" text-anchor="end" fill="#222" stroke="#222" >0</text>
<line x1="573.30" y1="71.70" x2="575.80" y2="71.70" stroke="#b0b0b0" stroke-width="0.8"/>
<text x="570.30" y="74.60" font-size="8.2" text-anchor="end" fill="#222" stroke="#222" >2</text>
<line x1="573.30" y1="53.90" x2="575.80" y2="53.90" stroke="#b0b0b0" stroke-width="0.8"/>
<text x="570.30" y="56.80" font-size="8.2" text-anchor="end" fill="#222" stroke="#222" >4</text>
<line x1="573.30" y1="36.10" x2="575.80" y2="36.10" stroke="#b0b0b0" stroke-width="0.8"/>
<text x="570.30" y="39.00" font-size="8.2" text-anchor="end" fill="#222" stroke="#222" >6</text>
<line x1="573.30" y1="18.30" x2="575.80" y2="18.30" stroke="#b0b0b0" stroke-width="0.8"/>
<text x="570.30" y="21.20" font-size="8.2" text-anchor="end" fill="#222" stroke="#222" >8</text>
<line x1="580.80" y1="92.3" x2="580.80" y2="95.30" stroke="#b0b0b0" stroke-width="0.8"/>
<text x="580.80" y="104.00" font-size="8.2" text-anchor="middle" fill="#222" stroke="#222" >−1.0</text>
<line x1="605.57" y1="92.3" x2="605.57" y2="95.30" stroke="#b0b0b0" stroke-width="0.8"/>
<text x="605.57" y="104.00" font-size="8.2" text-anchor="middle" fill="#222" stroke="#222" >−0.5</text>
<line x1="630.35" y1="92.3" x2="630.35" y2="95.30" stroke="#b0b0b0" stroke-width="0.8"/>
<text x="630.35" y="104.00" font-size="8.2" text-anchor="middle" fill="#222" stroke="#222" >0</text>
<line x1="655.12" y1="92.3" x2="655.12" y2="95.30" stroke="#b0b0b0" stroke-width="0.8"/>
<text x="655.12" y="104.00" font-size="8.2" text-anchor="middle" fill="#222" stroke="#222" >0.5</text>
<line x1="679.90" y1="92.3" x2="679.90" y2="95.30" stroke="#b0b0b0" stroke-width="0.8"/>
<text x="679.90" y="104.00" font-size="8.2" text-anchor="middle" fill="#222" stroke="#222" >1.0</text>
<text transform="translate(558.30,55) rotate(-90)" font-size="8.5" text-anchor="middle" fill="#222" stroke="#222">– log<tspan font-size="6" dy="2">10</tspan><tspan dy="-2" font-style="italic">P</tspan></text>
<text x="342.50" y="115.90" font-size="9.2" text-anchor="middle" fill="#222" stroke="#222" >Local genetic correlation</text>
<defs><clipPath id="vc0"><circle cx="51.9" cy="192.4" r="48.7"/></clipPath></defs>
<circle cx="51.9" cy="192.4" r="48.7" fill="#a9c3a3"/>
<circle cx="84.5" cy="191.8" r="22.0" fill="#c7e7c2"/>
<circle cx="84.5" cy="191.8" r="22.0" fill="#97c992" clip-path="url(#vc0)"/>
<g clip-path="url(#vc0)"><circle cx="84.5" cy="191.8" r="22.0" fill="none" stroke="#fff" stroke-width="1.6"/></g>
<defs><clipPath id="vs0"><circle cx="84.5" cy="191.8" r="22.0"/></clipPath></defs>
<g clip-path="url(#vs0)"><circle cx="51.9" cy="192.4" r="48.7" fill="none" stroke="#fff" stroke-width="1.4"/></g>
<text x="51.90" y="138.90" font-size="8.7" text-anchor="middle" fill="#222" stroke="#222" >PAD</text>
<text x="31.30" y="195.70" font-size="8.8" text-anchor="middle" fill="#222" stroke="#222" >9,518</text>
<text x="82.50" y="195.90" font-size="8.8" text-anchor="middle" fill="#222" stroke="#222" >2,109</text>
<text x="104.50" y="160.50" font-size="9.2" text-anchor="middle" fill="#222" stroke="#222" >238</text>
<line x1="104.5" y1="162" x2="104.5" y2="192" stroke="#666" stroke-width="0.8"/>
<defs><clipPath id="vc1"><circle cx="196.2" cy="192.5" r="49.2"/></clipPath></defs>
<circle cx="196.2" cy="192.5" r="49.2" fill="#a9c3a3"/>
<circle cx="228.3" cy="192.1" r="21.7" fill="#c7e7c2"/>
<circle cx="228.3" cy="192.1" r="21.7" fill="#97c992" clip-path="url(#vc1)"/>
<g clip-path="url(#vc1)"><circle cx="228.3" cy="192.1" r="21.7" fill="none" stroke="#fff" stroke-width="1.6"/></g>
<defs><clipPath id="vs1"><circle cx="228.3" cy="192.1" r="21.7"/></clipPath></defs>
<g clip-path="url(#vs1)"><circle cx="196.2" cy="192.5" r="49.2" fill="none" stroke="#fff" stroke-width="1.4"/></g>
<text x="196.20" y="138.90" font-size="8.7" text-anchor="middle" fill="#222" stroke="#222" >HF</text>
<text x="176.70" y="195.80" font-size="8.8" text-anchor="middle" fill="#222" stroke="#222" >9,669</text>
<text x="229.20" y="196.00" font-size="8.8" text-anchor="middle" fill="#222" stroke="#222" >1,957</text>
<text x="247.50" y="160.70" font-size="9.2" text-anchor="middle" fill="#222" stroke="#222" >175</text>
<line x1="248.6" y1="162.5" x2="248.6" y2="192.5" stroke="#666" stroke-width="0.8"/>
<defs><clipPath id="vc2"><circle cx="337.6" cy="192.0" r="47.3"/></clipPath></defs>
<circle cx="337.6" cy="192.0" r="47.3" fill="#a9c3a3"/>
<circle cx="375.2" cy="190.9" r="17.35" fill="#c7e7c2"/>
<circle cx="375.2" cy="190.9" r="17.35" fill="#97c992" clip-path="url(#vc2)"/>
<g clip-path="url(#vc2)"><circle cx="375.2" cy="190.9" r="17.35" fill="none" stroke="#fff" stroke-width="1.6"/></g>
<defs><clipPath id="vs2"><circle cx="375.2" cy="190.9" r="17.35"/></clipPath></defs>
<g clip-path="url(#vs2)"><circle cx="337.6" cy="192.0" r="47.3" fill="none" stroke="#fff" stroke-width="1.4"/></g>
<text x="337.60" y="138.90" font-size="8.7" text-anchor="middle" fill="#222" stroke="#222" >CAD</text>
<text x="324.30" y="195.30" font-size="8.8" text-anchor="middle" fill="#222" stroke="#222" >10,383</text>
<text x="373.20" y="195.50" font-size="8.8" text-anchor="middle" fill="#222" stroke="#222" >1,244</text>
<text x="389.30" y="165.00" font-size="9.2" text-anchor="middle" fill="#222" stroke="#222" >365</text>
<line x1="389.6" y1="166.5" x2="389.6" y2="192.5" stroke="#666" stroke-width="0.8"/>
<defs><clipPath id="vc3"><circle cx="481.0" cy="192.0" r="47.6"/></clipPath></defs>
<circle cx="481.0" cy="192.0" r="47.6" fill="#a9c3a3"/>
<circle cx="520.35" cy="192.3" r="15.1" fill="#c7e7c2"/>
<circle cx="520.35" cy="192.3" r="15.1" fill="#97c992" clip-path="url(#vc3)"/>
<g clip-path="url(#vc3)"><circle cx="520.35" cy="192.3" r="15.1" fill="none" stroke="#fff" stroke-width="1.6"/></g>
<defs><clipPath id="vs3"><circle cx="520.35" cy="192.3" r="15.1"/></clipPath></defs>
<g clip-path="url(#vs3)"><circle cx="481.0" cy="192.0" r="47.6" fill="none" stroke="#fff" stroke-width="1.4"/></g>
<text x="481.00" y="138.90" font-size="8.7" text-anchor="middle" fill="#222" stroke="#222" >Stroke</text>
<text x="469.50" y="195.30" font-size="8.8" text-anchor="middle" fill="#222" stroke="#222" >10,708</text>
<text x="518.40" y="195.50" font-size="8.8" text-anchor="middle" fill="#222" stroke="#222" >919</text>
<text x="532.70" y="168.50" font-size="9.2" text-anchor="middle" fill="#222" stroke="#222" >205</text>
<line x1="533.4" y1="170" x2="533.4" y2="192.5" stroke="#666" stroke-width="0.8"/>
<defs><clipPath id="vc4"><circle cx="623.5" cy="196.9" r="46.7"/></clipPath></defs>
<circle cx="623.5" cy="196.9" r="46.7" fill="#a9c3a3"/>
<circle cx="668.3" cy="196.8" r="9.5" fill="#c7e7c2"/>
<circle cx="668.3" cy="196.8" r="9.5" fill="#97c992" clip-path="url(#vc4)"/>
<g clip-path="url(#vc4)"><circle cx="668.3" cy="196.8" r="9.5" fill="none" stroke="#fff" stroke-width="1.6"/></g>
<defs><clipPath id="vs4"><circle cx="668.3" cy="196.8" r="9.5"/></clipPath></defs>
<g clip-path="url(#vs4)"><circle cx="623.5" cy="196.9" r="46.7" fill="none" stroke="#fff" stroke-width="1.4"/></g>
<text x="623.50" y="138.90" font-size="8.7" text-anchor="middle" fill="#222" stroke="#222" >AF</text>
<text x="618.30" y="200.20" font-size="8.8" text-anchor="middle" fill="#222" stroke="#222" >11,316</text>
<text x="665.00" y="140.60" font-size="9.2" text-anchor="middle" fill="#222" stroke="#222" >310</text>
<line x1="665.6" y1="143.5" x2="665.6" y2="198" stroke="#666" stroke-width="0.8"/>
<text x="675.00" y="177.80" font-size="9.2" text-anchor="middle" fill="#222" stroke="#222" >178</text>
<line x1="675.3" y1="179.5" x2="675.3" y2="197" stroke="#666" stroke-width="0.8"/>
<text x="341.90" y="251.10" font-size="9.0" text-anchor="middle" fill="#222" stroke="#222" >Variant overlap with MDD</text>
<rect x="53.7" y="270.8" width="104" height="80.60" fill="none" stroke="#b0b0b0" stroke-width="1"/>
<line x1="51.2" y1="347.20" x2="53.7" y2="347.20" stroke="#b0b0b0" stroke-width="0.8"/>
<text x="49.10" y="349.90" font-size="7.9" text-anchor="end" fill="#222" stroke="#222" >0</text>
<line x1="51.2" y1="329.00" x2="53.7" y2="329.00" stroke="#b0b0b0" stroke-width="0.8"/>
<text x="49.10" y="331.70" font-size="7.9" text-anchor="end" fill="#222" stroke="#222" >25</text>
<line x1="51.2" y1="310.80" x2="53.7" y2="310.80" stroke="#b0b0b0" stroke-width="0.8"/>
<text x="49.10" y="313.50" font-size="7.9" text-anchor="end" fill="#222" stroke="#222" >50</text>
<line x1="51.2" y1="292.60" x2="53.7" y2="292.60" stroke="#b0b0b0" stroke-width="0.8"/>
<text x="49.10" y="295.30" font-size="7.9" text-anchor="end" fill="#222" stroke="#222" >75</text>
<line x1="51.2" y1="274.40" x2="53.7" y2="274.40" stroke="#b0b0b0" stroke-width="0.8"/>
<text x="49.10" y="277.10" font-size="7.9" text-anchor="end" fill="#222" stroke="#222" >100</text>
<line x1="58.45" y1="351.4" x2="58.45" y2="353.9" stroke="#b0b0b0" stroke-width="0.8"/>
<text x="58.45" y="362.30" font-size="7.9" text-anchor="middle" fill="#222" stroke="#222" >0</text>
<line x1="82.15" y1="351.4" x2="82.15" y2="353.9" stroke="#b0b0b0" stroke-width="0.8"/>
<text x="82.15" y="362.30" font-size="7.9" text-anchor="middle" fill="#222" stroke="#222" >0.1</text>
<line x1="105.85" y1="351.4" x2="105.85" y2="353.9" stroke="#b0b0b0" stroke-width="0.8"/>
<text x="105.85" y="362.30" font-size="7.9" text-anchor="middle" fill="#222" stroke="#222" >0.2</text>
<line x1="129.55" y1="351.4" x2="129.55" y2="353.9" stroke="#b0b0b0" stroke-width="0.8"/>
<text x="129.55" y="362.30" font-size="7.9" text-anchor="middle" fill="#222" stroke="#222" >0.3</text>
<line x1="153.25" y1="351.4" x2="153.25" y2="353.9" stroke="#b0b0b0" stroke-width="0.8"/>
<text x="153.25" y="362.30" font-size="7.9" text-anchor="middle" fill="#222" stroke="#222" >0.4</text>
<text x="105.30" y="373.80" font-size="9.2" text-anchor="middle" fill="#222" stroke="#222" >Genetic correlation</text>
<text transform="translate(20.50,311.2) rotate(-90)" font-size="9.0" text-anchor="middle" fill="#222" stroke="#222">MDD variants shared</text>
<text transform="translate(30.20,311.2) rotate(-90)" font-size="9.0" text-anchor="middle" fill="#222" stroke="#222">with trait (%)</text>
<line x1="80" y1="328.8" x2="84.7" y2="346.6" stroke="#333" stroke-width="0.7"/>
<line x1="122.2" y1="310.4" x2="125.4" y2="336.3" stroke="#333" stroke-width="0.7"/>
<line x1="137.4" y1="327.5" x2="129.7" y2="335.1" stroke="#333" stroke-width="0.7"/>
<line x1="124.6" y1="341" x2="129.1" y2="341" stroke="#333" stroke-width="0.7"/>
<rect x="113.1" y="297.2" width="17.90" height="13.20" fill="#8fd18f" stroke="#9ed49c" stroke-width="0.5"/>
<text x="122.35" y="307.10" font-size="9.2" text-anchor="middle" fill="#111" stroke="#111" style="stroke-width:0.14px">HF</text>
<rect x="129.9" y="314.2" width="24.20" height="13.30" fill="#8fd18f" stroke="#9ed49c" stroke-width="0.5"/>
<text x="142.30" y="324.15" font-size="9.2" text-anchor="middle" fill="#111" stroke="#111" style="stroke-width:0.14px">PAD</text>
<rect x="71.2" y="315.2" width="17.50" height="13.60" fill="#8fd18f" stroke="#9ed49c" stroke-width="0.5"/>
<text x="80.25" y="325.30" font-size="9.2" text-anchor="middle" fill="#111" stroke="#111" style="stroke-width:0.14px">AF</text>
<rect x="93.2" y="334.3" width="31.40" height="13.10" fill="#8fd18f" stroke="#9ed49c" stroke-width="0.5"/>
<text x="109.20" y="344.15" font-size="9.2" text-anchor="middle" fill="#111" stroke="#111" style="stroke-width:0.14px">Stroke</text>
<rect x="129.1" y="334.3" width="25.00" height="13.10" fill="#8fd18f" stroke="#9ed49c" stroke-width="0.5"/>
<text x="141.90" y="344.15" font-size="9.2" text-anchor="middle" fill="#111" stroke="#111" style="stroke-width:0.14px">CAD</text>
<circle cx="84.7" cy="346.6" r="1.1" fill="#000"/>
<circle cx="125.4" cy="336.3" r="1.1" fill="#000"/>
<circle cx="129.7" cy="335.1" r="1.1" fill="#000"/>
<circle cx="101.1" cy="341" r="1.1" fill="#000"/>
<circle cx="115.8" cy="341" r="1.1" fill="#000"/>
<rect x="220.6" y="270.8" width="104" height="80.60" fill="none" stroke="#b0b0b0" stroke-width="1"/>
<line x1="218.1" y1="347.20" x2="220.6" y2="347.20" stroke="#b0b0b0" stroke-width="0.8"/>
<text x="216.00" y="349.90" font-size="7.9" text-anchor="end" fill="#222" stroke="#222" >0</text>
<line x1="218.1" y1="329.00" x2="220.6" y2="329.00" stroke="#b0b0b0" stroke-width="0.8"/>
<text x="216.00" y="331.70" font-size="7.9" text-anchor="end" fill="#222" stroke="#222" >25</text>
<line x1="218.1" y1="310.80" x2="220.6" y2="310.80" stroke="#b0b0b0" stroke-width="0.8"/>
<text x="216.00" y="313.50" font-size="7.9" text-anchor="end" fill="#222" stroke="#222" >50</text>
<line x1="218.1" y1="292.60" x2="220.6" y2="292.60" stroke="#b0b0b0" stroke-width="0.8"/>
<text x="216.00" y="295.30" font-size="7.9" text-anchor="end" fill="#222" stroke="#222" >75</text>
<line x1="218.1" y1="274.40" x2="220.6" y2="274.40" stroke="#b0b0b0" stroke-width="0.8"/>
<text x="216.00" y="277.10" font-size="7.9" text-anchor="end" fill="#222" stroke="#222" >100</text>
<line x1="225.35" y1="351.4" x2="225.35" y2="353.9" stroke="#b0b0b0" stroke-width="0.8"/>
<text x="225.35" y="362.30" font-size="7.9" text-anchor="middle" fill="#222" stroke="#222" >0</text>
<line x1="249.05" y1="351.4" x2="249.05" y2="353.9" stroke="#b0b0b0" stroke-width="0.8"/>
<text x="249.05" y="362.30" font-size="7.9" text-anchor="middle" fill="#222" stroke="#222" >0.1</text>
<line x1="272.75" y1="351.4" x2="272.75" y2="353.9" stroke="#b0b0b0" stroke-width="0.8"/>
<text x="272.75" y="362.30" font-size="7.9" text-anchor="middle" fill="#222" stroke="#222" >0.2</text>
<line x1="296.45" y1="351.4" x2="296.45" y2="353.9" stroke="#b0b0b0" stroke-width="0.8"/>
<text x="296.45" y="362.30" font-size="7.9" text-anchor="middle" fill="#222" stroke="#222" >0.3</text>
<line x1="320.15" y1="351.4" x2="320.15" y2="353.9" stroke="#b0b0b0" stroke-width="0.8"/>
<text x="320.15" y="362.30" font-size="7.9" text-anchor="middle" fill="#222" stroke="#222" >0.4</text>
<text x="272.20" y="373.80" font-size="9.2" text-anchor="middle" fill="#222" stroke="#222" >Genetic correlation</text>
<text transform="translate(187.40,311.2) rotate(-90)" font-size="9.0" text-anchor="middle" fill="#222" stroke="#222">Trait variants shared</text>
<text transform="translate(197.10,311.2) rotate(-90)" font-size="9.0" text-anchor="middle" fill="#222" stroke="#222">with MDD (%)</text>
<line x1="250" y1="300.7" x2="256.1" y2="300.7" stroke="#333" stroke-width="0.7"/>
<line x1="283.6" y1="289.5" x2="288" y2="314.4" stroke="#333" stroke-width="0.7"/>
<line x1="293.4" y1="280.4" x2="301.4" y2="280.4" stroke="#333" stroke-width="0.7"/>
<line x1="292.3" y1="280" x2="306" y2="294.4" stroke="#333" stroke-width="0.7"/>
<rect x="260.5" y="274.1" width="31.10" height="12.80" fill="#8fd18f" stroke="#9ed49c" stroke-width="0.5"/>
<text x="276.35" y="283.80" font-size="9.2" text-anchor="middle" fill="#111" stroke="#111" style="stroke-width:0.14px">Stroke</text>
<rect x="301.4" y="274.1" width="18.30" height="12.80" fill="#8fd18f" stroke="#9ed49c" stroke-width="0.5"/>
<text x="310.85" y="283.80" font-size="9.2" text-anchor="middle" fill="#111" stroke="#111" style="stroke-width:0.14px">HF</text>
<rect x="256.1" y="294.3" width="17.70" height="13.10" fill="#8fd18f" stroke="#9ed49c" stroke-width="0.5"/>
<text x="265.25" y="304.15" font-size="9.2" text-anchor="middle" fill="#111" stroke="#111" style="stroke-width:0.14px">AF</text>
<rect x="296.2" y="294.4" width="24.50" height="12.60" fill="#8fd18f" stroke="#9ed49c" stroke-width="0.5"/>
<text x="308.75" y="304.00" font-size="9.2" text-anchor="middle" fill="#111" stroke="#111" style="stroke-width:0.14px">PAD</text>
<rect x="275.9" y="314.4" width="24.10" height="12.70" fill="#8fd18f" stroke="#9ed49c" stroke-width="0.5"/>
<text x="288.25" y="324.05" font-size="9.2" text-anchor="middle" fill="#111" stroke="#111" style="stroke-width:0.14px">CAD</text>
<circle cx="250" cy="300.7" r="1.1" fill="#000"/>
<circle cx="267.5" cy="287.2" r="1.1" fill="#000"/>
<circle cx="283.6" cy="289.5" r="1.1" fill="#000"/>
<circle cx="293.4" cy="280.4" r="1.1" fill="#000"/>
<circle cx="292.3" cy="280" r="1.1" fill="#000"/>
<rect x="385.8" y="270.8" width="104" height="80.60" fill="none" stroke="#b0b0b0" stroke-width="1"/>
<line x1="383.3" y1="347.20" x2="385.8" y2="347.20" stroke="#b0b0b0" stroke-width="0.8"/>
<text x="381.20" y="349.90" font-size="7.9" text-anchor="end" fill="#222" stroke="#222" >0</text>
<line x1="383.3" y1="329.00" x2="385.8" y2="329.00" stroke="#b0b0b0" stroke-width="0.8"/>
<text x="381.20" y="331.70" font-size="7.9" text-anchor="end" fill="#222" stroke="#222" >25</text>
<line x1="383.3" y1="310.80" x2="385.8" y2="310.80" stroke="#b0b0b0" stroke-width="0.8"/>
<text x="381.20" y="313.50" font-size="7.9" text-anchor="end" fill="#222" stroke="#222" >50</text>
<line x1="383.3" y1="292.60" x2="385.8" y2="292.60" stroke="#b0b0b0" stroke-width="0.8"/>
<text x="381.20" y="295.30" font-size="7.9" text-anchor="end" fill="#222" stroke="#222" >75</text>
<line x1="383.3" y1="274.40" x2="385.8" y2="274.40" stroke="#b0b0b0" stroke-width="0.8"/>
<text x="381.20" y="277.10" font-size="7.9" text-anchor="end" fill="#222" stroke="#222" >100</text>
<line x1="390.55" y1="351.4" x2="390.55" y2="353.9" stroke="#b0b0b0" stroke-width="0.8"/>
<text x="390.55" y="362.30" font-size="7.9" text-anchor="middle" fill="#222" stroke="#222" >0</text>
<line x1="414.25" y1="351.4" x2="414.25" y2="353.9" stroke="#b0b0b0" stroke-width="0.8"/>
<text x="414.25" y="362.30" font-size="7.9" text-anchor="middle" fill="#222" stroke="#222" >0.1</text>
<line x1="437.95" y1="351.4" x2="437.95" y2="353.9" stroke="#b0b0b0" stroke-width="0.8"/>
<text x="437.95" y="362.30" font-size="7.9" text-anchor="middle" fill="#222" stroke="#222" >0.2</text>
<line x1="461.65" y1="351.4" x2="461.65" y2="353.9" stroke="#b0b0b0" stroke-width="0.8"/>
<text x="461.65" y="362.30" font-size="7.9" text-anchor="middle" fill="#222" stroke="#222" >0.3</text>
<line x1="485.35" y1="351.4" x2="485.35" y2="353.9" stroke="#b0b0b0" stroke-width="0.8"/>
<text x="485.35" y="362.30" font-size="7.9" text-anchor="middle" fill="#222" stroke="#222" >0.4</text>
<text x="437.40" y="373.80" font-size="9.2" text-anchor="middle" fill="#222" stroke="#222" >Genetic correlation</text>
<text transform="translate(352.60,311.2) rotate(-90)" font-size="9.0" text-anchor="middle" fill="#222" stroke="#222">Concordance in</text>
<text transform="translate(362.30,311.2) rotate(-90)" font-size="9.0" text-anchor="middle" fill="#222" stroke="#222">shared (%)</text>
<line x1="434" y1="280.8" x2="438.7" y2="294.4" stroke="#333" stroke-width="0.7"/>
<line x1="448" y1="280.4" x2="461.5" y2="280.4" stroke="#333" stroke-width="0.7"/>
<line x1="459.7" y1="286" x2="468.5" y2="301" stroke="#333" stroke-width="0.7"/>
<line x1="460.3" y1="286.6" x2="472.8" y2="314.4" stroke="#333" stroke-width="0.7"/>
<rect x="416.3" y="274.1" width="17.70" height="12.80" fill="#8fd18f" stroke="#9ed49c" stroke-width="0.5"/>
<text x="425.45" y="283.80" font-size="9.2" text-anchor="middle" fill="#111" stroke="#111" style="stroke-width:0.14px">AF</text>
<rect x="461.5" y="274.1" width="25.00" height="12.80" fill="#8fd18f" stroke="#9ed49c" stroke-width="0.5"/>
<text x="474.30" y="283.80" font-size="9.2" text-anchor="middle" fill="#111" stroke="#111" style="stroke-width:0.14px">CAD</text>
<rect x="424.1" y="294.4" width="30.90" height="12.60" fill="#8fd18f" stroke="#9ed49c" stroke-width="0.5"/>
<text x="439.85" y="304.00" font-size="9.2" text-anchor="middle" fill="#111" stroke="#111" style="stroke-width:0.14px">Stroke</text>
<rect x="468.5" y="293.9" width="18.00" height="12.80" fill="#8fd18f" stroke="#9ed49c" stroke-width="0.5"/>
<text x="477.80" y="303.60" font-size="9.2" text-anchor="middle" fill="#111" stroke="#111" style="stroke-width:0.14px">HF</text>
<rect x="462.3" y="314.4" width="24.20" height="12.60" fill="#8fd18f" stroke="#9ed49c" stroke-width="0.5"/>
<text x="474.70" y="324.00" font-size="9.2" text-anchor="middle" fill="#111" stroke="#111" style="stroke-width:0.14px">PAD</text>
<circle cx="416.3" cy="282" r="1.1" fill="#000"/>
<circle cx="434" cy="280.8" r="1.1" fill="#000"/>
<circle cx="448" cy="280.4" r="1.1" fill="#000"/>
<circle cx="459.7" cy="286" r="1.1" fill="#000"/>
<circle cx="460.3" cy="286.6" r="1.1" fill="#000"/>
<rect x="551.6" y="270.8" width="104" height="80.60" fill="none" stroke="#b0b0b0" stroke-width="1"/>
<line x1="549.1" y1="347.20" x2="551.6" y2="347.20" stroke="#b0b0b0" stroke-width="0.8"/>
<text x="547.00" y="349.90" font-size="7.9" text-anchor="end" fill="#222" stroke="#222" >0</text>
<line x1="549.1" y1="329.00" x2="551.6" y2="329.00" stroke="#b0b0b0" stroke-width="0.8"/>
<text x="547.00" y="331.70" font-size="7.9" text-anchor="end" fill="#222" stroke="#222" >25</text>
<line x1="549.1" y1="310.80" x2="551.6" y2="310.80" stroke="#b0b0b0" stroke-width="0.8"/>
<text x="547.00" y="313.50" font-size="7.9" text-anchor="end" fill="#222" stroke="#222" >50</text>
<line x1="549.1" y1="292.60" x2="551.6" y2="292.60" stroke="#b0b0b0" stroke-width="0.8"/>
<text x="547.00" y="295.30" font-size="7.9" text-anchor="end" fill="#222" stroke="#222" >75</text>
<line x1="549.1" y1="274.40" x2="551.6" y2="274.40" stroke="#b0b0b0" stroke-width="0.8"/>
<text x="547.00" y="277.10" font-size="7.9" text-anchor="end" fill="#222" stroke="#222" >100</text>
<line x1="556.35" y1="351.4" x2="556.35" y2="353.9" stroke="#b0b0b0" stroke-width="0.8"/>
<text x="556.35" y="362.30" font-size="7.9" text-anchor="middle" fill="#222" stroke="#222" >0</text>
<line x1="580.05" y1="351.4" x2="580.05" y2="353.9" stroke="#b0b0b0" stroke-width="0.8"/>
<text x="580.05" y="362.30" font-size="7.9" text-anchor="middle" fill="#222" stroke="#222" >0.1</text>
<line x1="603.75" y1="351.4" x2="603.75" y2="353.9" stroke="#b0b0b0" stroke-width="0.8"/>
<text x="603.75" y="362.30" font-size="7.9" text-anchor="middle" fill="#222" stroke="#222" >0.2</text>
<line x1="627.45" y1="351.4" x2="627.45" y2="353.9" stroke="#b0b0b0" stroke-width="0.8"/>
<text x="627.45" y="362.30" font-size="7.9" text-anchor="middle" fill="#222" stroke="#222" >0.3</text>
<line x1="651.15" y1="351.4" x2="651.15" y2="353.9" stroke="#b0b0b0" stroke-width="0.8"/>
<text x="651.15" y="362.30" font-size="7.9" text-anchor="middle" fill="#222" stroke="#222" >0.4</text>
<text x="603.20" y="373.80" font-size="9.2" text-anchor="middle" fill="#222" stroke="#222" >Genetic correlation</text>
<text transform="translate(518.40,311.2) rotate(-90)" font-size="9.0" text-anchor="middle" fill="#222" stroke="#222">Concordance in local</text>
<text transform="translate(528.10,311.2) rotate(-90)" font-size="9.0" text-anchor="middle" fill="#222" stroke="#222">genetic correlation (%)</text>
<line x1="581.2" y1="306.2" x2="587.1" y2="298.3" stroke="#333" stroke-width="0.7"/>
<line x1="598.2" y1="304.8" x2="602.6" y2="310.5" stroke="#333" stroke-width="0.7"/>
<line x1="613.9" y1="298.6" x2="621" y2="286.9" stroke="#333" stroke-width="0.7"/>
<line x1="624.5" y1="302.7" x2="632.3" y2="301" stroke="#333" stroke-width="0.7"/>
<line x1="625.3" y1="303.3" x2="636" y2="314.4" stroke="#333" stroke-width="0.7"/>
<rect x="609.2" y="274.1" width="24.50" height="12.80" fill="#8fd18f" stroke="#9ed49c" stroke-width="0.5"/>
<text x="621.75" y="283.80" font-size="9.2" text-anchor="middle" fill="#111" stroke="#111" style="stroke-width:0.14px">CAD</text>
<rect x="587.1" y="287.8" width="17.60" height="13.10" fill="#8fd18f" stroke="#9ed49c" stroke-width="0.5"/>
<text x="596.20" y="297.65" font-size="9.2" text-anchor="middle" fill="#111" stroke="#111" style="stroke-width:0.14px">AF</text>
<rect x="632.3" y="294.4" width="18.10" height="12.60" fill="#8fd18f" stroke="#9ed49c" stroke-width="0.5"/>
<text x="641.65" y="304.00" font-size="9.2" text-anchor="middle" fill="#111" stroke="#111" style="stroke-width:0.14px">HF</text>
<rect x="589.4" y="310.5" width="31.00" height="12.70" fill="#8fd18f" stroke="#9ed49c" stroke-width="0.5"/>
<text x="605.20" y="320.15" font-size="9.2" text-anchor="middle" fill="#111" stroke="#111" style="stroke-width:0.14px">Stroke</text>
<rect x="627.4" y="314.4" width="24.20" height="12.60" fill="#8fd18f" stroke="#9ed49c" stroke-width="0.5"/>
<text x="639.80" y="324.00" font-size="9.2" text-anchor="middle" fill="#111" stroke="#111" style="stroke-width:0.14px">PAD</text>
<circle cx="581.2" cy="306.2" r="1.1" fill="#000"/>
<circle cx="598.2" cy="304.8" r="1.1" fill="#000"/>
<circle cx="613.9" cy="298.6" r="1.1" fill="#000"/>
<circle cx="624.5" cy="302.7" r="1.1" fill="#000"/>
<circle cx="625.3" cy="303.3" r="1.1" fill="#000"/>
</svg></body></html>
